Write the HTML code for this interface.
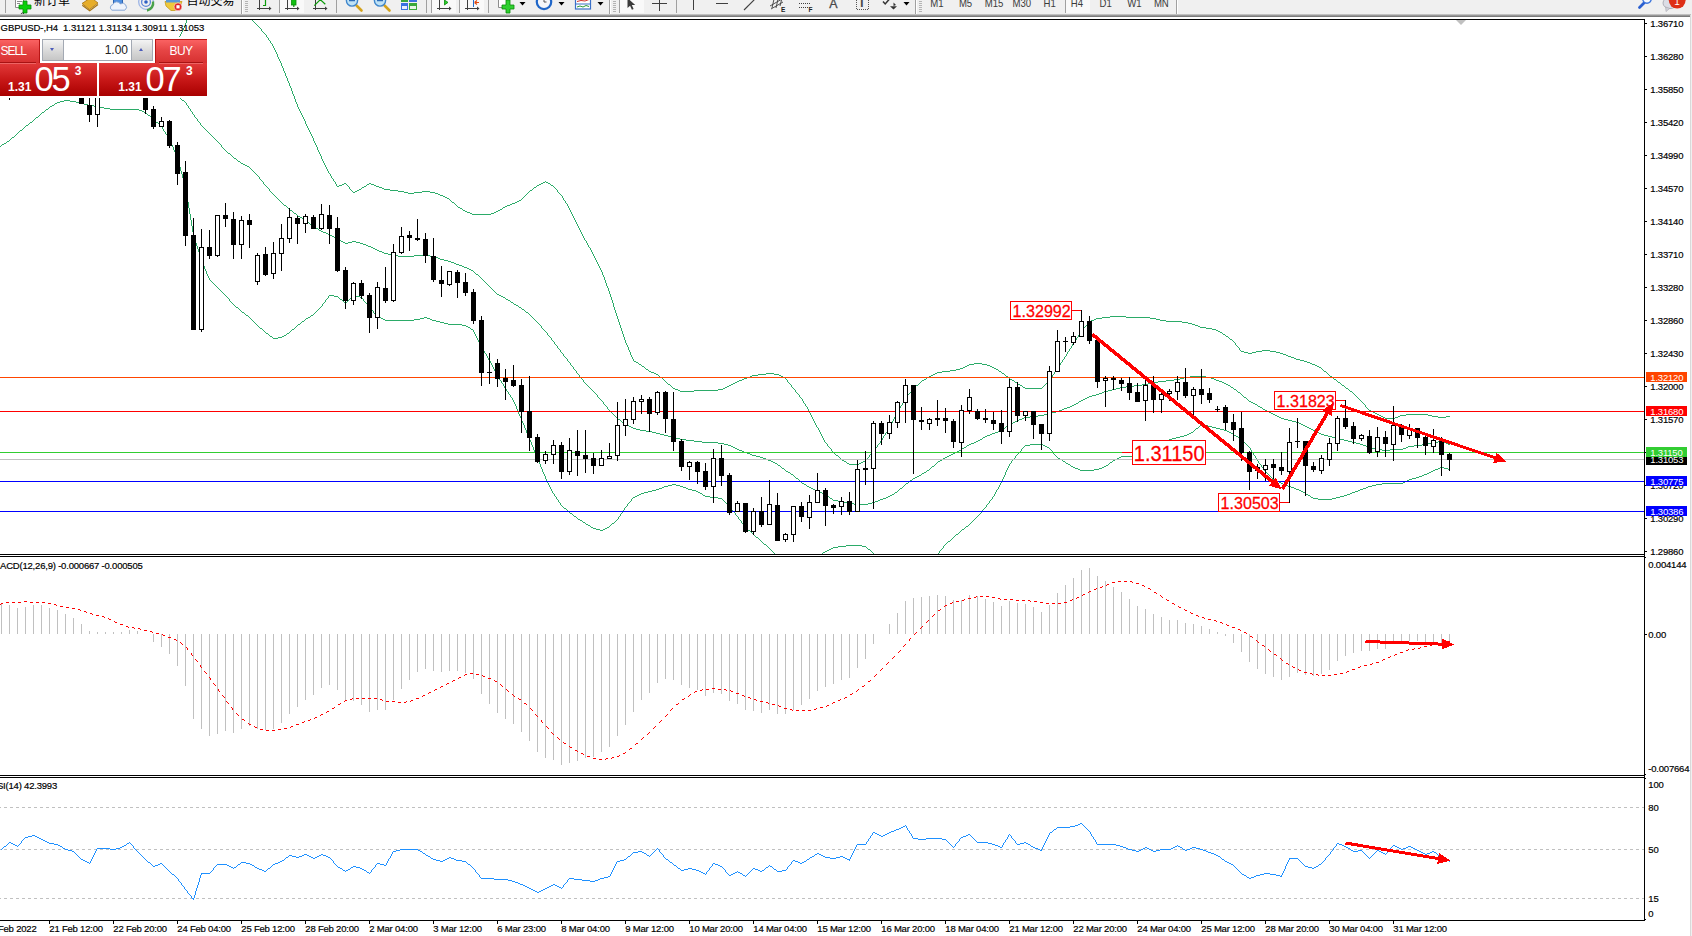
<!DOCTYPE html>
<html><head><meta charset="utf-8"><title>GBPUSD-,H4</title>
<style>
html,body{margin:0;padding:0;background:#fff;}
body{width:1692px;height:936px;overflow:hidden;position:relative;font-family:"Liberation Sans","Noto Sans CJK SC",sans-serif;}
#tb{position:absolute;left:0;top:0;width:1692px;height:15px;background:#f0f0f0;overflow:hidden;}
#tbsh{position:absolute;left:0;top:14px;width:1691px;height:3px;background:linear-gradient(#d8d8d8,#a0a0a0 40%,#6c6c6c);}
#redge{position:absolute;left:1690px;top:15px;width:1px;height:921px;background:#d9d9d9;}
#redge2{position:absolute;left:1691px;top:0;width:1px;height:936px;background:#f0f0f0;}
.cjk{position:absolute;font-size:12px;line-height:12px;color:#000;white-space:nowrap;font-family:"Liberation Sans","Noto Sans CJK SC",sans-serif;}
.tf{position:absolute;top:-4px;font-size:11px;line-height:12px;color:#3c3c3c;white-space:nowrap;}
svg{position:absolute;left:0;top:0;}
svg text{font-family:"Liberation Sans",sans-serif;}
#panel{position:absolute;left:0;top:37px;width:207px;height:61px;background:#fff;overflow:hidden;}
#panel div{position:absolute;box-sizing:border-box;white-space:nowrap;}
.btn{background:linear-gradient(#fa6262,#e64545 45%,#d63030);color:#fff;font-size:12px;}
.big{background:linear-gradient(#e23a3a,#c81818 50%,#a90000);color:#fff;}
.sm{font-weight:bold;font-size:12px;line-height:12px;color:#fff;}
.lg{font-size:34.5px;line-height:34.5px;letter-spacing:-2.3px;color:#fff;}
.sup{font-weight:bold;font-size:12px;line-height:12px;color:#fff;}
</style></head><body>

<svg width="1692" height="936" viewBox="0 0 1692 936">
<defs><clipPath id="cm"><rect x="0" y="20" width="1644" height="534"/></clipPath></defs>
<g fill="#2bab68" shape-rendering="crispEdges">
<path d="M186 20h1v3h-1zM252 20h1v1h-1zM253 21h1v1h-1zM254 22h1v1h-1zM185 23h1v3h-1zM255 23h1v1h-1zM256 24h1v1h-1zM257 25h1v1h-1zM184 26h1v2h-1zM258 26h1v1h-1zM259 27h1v1h-1zM183 28h1v2h-1zM260 28h1v1h-1zM261 29h1v2h-1zM182 30h1v2h-1zM262 31h1v1h-1zM181 32h1v2h-1zM263 32h1v1h-1zM264 33h1v1h-1zM180 34h1v2h-1zM265 34h1v1h-1zM266 35h1v2h-1zM179 36h1v2h-1zM267 37h1v1h-1zM178 38h1v2h-1zM268 38h1v2h-1zM177 40h1v2h-1zM269 40h1v1h-1zM270 41h1v2h-1zM176 42h1v2h-1zM271 43h1v1h-1zM175 44h1v2h-1zM272 44h1v2h-1zM174 46h1v2h-1zM273 46h1v2h-1zM173 48h1v2h-1zM274 48h1v2h-1zM172 50h1v2h-1zM275 50h1v2h-1zM171 52h1v2h-1zM276 52h1v2h-1zM170 54h1v2h-1zM277 54h1v3h-1zM169 56h1v2h-1zM278 57h1v2h-1zM168 58h1v1h-1zM166 59h2v1h-2zM279 59h1v2h-1zM0 60h46v1h-46zM165 60h1v1h-1zM46 61h40v1h-40zM164 61h1v1h-1zM280 61h1v2h-1zM86 62h24v1h-24zM162 62h2v1h-2zM110 63h8v1h-8zM160 63h2v1h-2zM281 63h1v3h-1zM118 64h8v1h-8zM158 64h2v1h-2zM126 65h16v1h-16zM155 65h3v1h-3zM142 66h13v1h-13zM282 66h1v2h-1zM283 68h1v3h-1zM284 71h1v2h-1zM285 73h1v3h-1zM286 76h1v2h-1zM287 78h1v3h-1zM288 81h1v2h-1zM289 83h1v3h-1zM290 86h1v2h-1zM291 88h1v3h-1zM292 91h1v3h-1zM293 94h1v2h-1zM294 96h1v3h-1zM295 99h1v3h-1zM296 102h1v2h-1zM297 104h1v3h-1zM298 107h1v2h-1zM299 109h1v2h-1zM300 111h1v2h-1zM301 113h1v2h-1zM302 115h1v2h-1zM303 117h1v2h-1zM304 119h1v2h-1zM305 121h1v3h-1zM306 124h1v2h-1zM307 126h1v2h-1zM308 128h1v2h-1zM309 130h1v2h-1zM310 132h1v2h-1zM311 134h1v2h-1zM312 136h1v2h-1zM313 138h1v3h-1zM314 141h1v2h-1zM315 143h1v2h-1zM316 145h1v2h-1zM317 147h1v3h-1zM318 150h1v2h-1zM319 152h1v2h-1zM320 154h1v2h-1zM321 156h1v3h-1zM322 159h1v2h-1zM323 161h1v2h-1zM324 163h1v2h-1zM325 165h1v2h-1zM326 167h1v2h-1zM327 169h1v2h-1zM328 171h1v2h-1zM329 173h1v1h-1zM330 174h1v2h-1zM331 176h1v2h-1zM332 178h1v1h-1zM333 179h1v2h-1zM334 181h1v1h-1zM545 181h1v1h-1zM335 182h1v2h-1zM543 182h2v1h-2zM546 182h2v1h-2zM344 183h2v1h-2zM369 183h2v1h-2zM541 183h2v1h-2zM548 183h2v1h-2zM336 184h1v2h-1zM342 184h2v1h-2zM346 184h1v1h-1zM367 184h2v1h-2zM371 184h3v1h-3zM539 184h2v1h-2zM550 184h1v1h-1zM339 185h3v1h-3zM347 185h1v1h-1zM366 185h1v1h-1zM374 185h2v1h-2zM537 185h2v1h-2zM551 185h2v1h-2zM337 186h2v1h-2zM348 186h1v1h-1zM364 186h2v1h-2zM376 186h3v1h-3zM536 186h1v1h-1zM553 186h1v1h-1zM349 187h1v2h-1zM362 187h2v1h-2zM379 187h3v1h-3zM534 187h2v1h-2zM554 187h1v1h-1zM361 188h1v1h-1zM382 188h2v1h-2zM533 188h1v1h-1zM555 188h1v1h-1zM350 189h1v1h-1zM359 189h2v1h-2zM384 189h6v1h-6zM532 189h1v1h-1zM556 189h1v1h-1zM351 190h1v1h-1zM357 190h2v1h-2zM390 190h8v1h-8zM530 190h2v1h-2zM557 190h1v2h-1zM352 191h1v1h-1zM355 191h2v1h-2zM398 191h6v1h-6zM422 191h8v1h-8zM529 191h1v1h-1zM353 192h2v1h-2zM404 192h4v1h-4zM414 192h8v1h-8zM430 192h5v1h-5zM528 192h1v1h-1zM558 192h1v1h-1zM408 193h6v1h-6zM435 193h3v1h-3zM527 193h1v1h-1zM559 193h1v1h-1zM438 194h2v1h-2zM526 194h1v1h-1zM560 194h1v1h-1zM440 195h3v1h-3zM525 195h1v1h-1zM561 195h1v1h-1zM443 196h2v1h-2zM524 196h1v1h-1zM562 196h1v2h-1zM445 197h2v1h-2zM523 197h1v1h-1zM447 198h2v1h-2zM522 198h1v1h-1zM563 198h1v2h-1zM449 199h1v1h-1zM521 199h1v1h-1zM450 200h1v1h-1zM519 200h2v1h-2zM564 200h1v1h-1zM451 201h1v1h-1zM517 201h2v1h-2zM565 201h1v2h-1zM452 202h2v1h-2zM515 202h2v1h-2zM454 203h1v1h-1zM512 203h3v1h-3zM566 203h1v1h-1zM455 204h1v1h-1zM510 204h2v1h-2zM567 204h1v2h-1zM456 205h1v1h-1zM507 205h3v1h-3zM457 206h1v1h-1zM505 206h2v1h-2zM568 206h1v2h-1zM458 207h2v1h-2zM503 207h2v1h-2zM460 208h2v1h-2zM502 208h1v1h-1zM569 208h1v2h-1zM462 209h1v1h-1zM500 209h2v1h-2zM463 210h2v1h-2zM498 210h2v1h-2zM570 210h1v2h-1zM465 211h2v1h-2zM496 211h2v1h-2zM467 212h3v1h-3zM494 212h2v1h-2zM571 212h1v2h-1zM470 213h2v1h-2zM491 213h3v1h-3zM472 214h19v1h-19zM572 214h1v2h-1zM573 216h1v2h-1zM574 218h1v2h-1zM575 220h1v2h-1zM576 222h1v2h-1zM577 224h1v2h-1zM578 226h1v2h-1zM579 228h1v2h-1zM580 230h1v2h-1zM581 232h1v2h-1zM582 234h1v2h-1zM583 236h1v2h-1zM584 238h1v2h-1zM585 240h1v1h-1zM586 241h1v2h-1zM587 243h1v2h-1zM588 245h1v2h-1zM589 247h1v1h-1zM590 248h1v2h-1zM591 250h1v2h-1zM592 252h1v2h-1zM593 254h1v2h-1zM594 256h1v2h-1zM595 258h1v2h-1zM596 260h1v2h-1zM597 262h1v2h-1zM598 264h1v2h-1zM599 266h1v2h-1zM600 268h1v2h-1zM601 270h1v2h-1zM602 272h1v3h-1zM603 275h1v2h-1zM604 277h1v3h-1zM605 280h1v3h-1zM606 283h1v3h-1zM607 286h1v2h-1zM608 288h1v3h-1zM609 291h1v3h-1zM610 294h1v3h-1zM611 297h1v3h-1zM612 300h1v3h-1zM613 303h1v4h-1zM614 307h1v3h-1zM615 310h1v3h-1zM616 313h1v3h-1zM617 316h1v3h-1zM1110 316h16v1h-16zM1102 317h8v1h-8zM1126 317h24v1h-24zM1096 318h6v1h-6zM1150 318h6v1h-6zM618 319h1v3h-1zM1094 319h2v1h-2zM1156 319h4v1h-4zM1091 320h3v1h-3zM1160 320h6v1h-6zM1089 321h2v1h-2zM1166 321h16v1h-16zM619 322h1v3h-1zM1088 322h1v1h-1zM1182 322h6v1h-6zM1087 323h1v2h-1zM1188 323h4v1h-4zM1192 324h3v1h-3zM620 325h1v3h-1zM1086 325h1v1h-1zM1195 325h3v1h-3zM1085 326h1v1h-1zM1198 326h2v1h-2zM1084 327h1v1h-1zM1200 327h6v1h-6zM621 328h1v3h-1zM1083 328h1v2h-1zM1206 328h6v1h-6zM1212 329h4v1h-4zM1082 330h1v1h-1zM1216 330h2v1h-2zM622 331h1v3h-1zM1081 331h1v1h-1zM1218 331h2v1h-2zM1080 332h1v2h-1zM1220 332h2v1h-2zM1222 333h1v1h-1zM623 334h1v3h-1zM1079 334h1v1h-1zM1223 334h2v1h-2zM1078 335h1v2h-1zM1225 335h1v1h-1zM1226 336h2v1h-2zM624 337h1v3h-1zM1077 337h1v1h-1zM1228 337h1v1h-1zM1076 338h1v2h-1zM1229 338h1v1h-1zM1230 339h2v1h-2zM625 340h1v3h-1zM1075 340h1v1h-1zM1232 340h1v1h-1zM1074 341h1v2h-1zM1233 341h1v1h-1zM1234 342h1v1h-1zM626 343h1v2h-1zM1073 343h1v1h-1zM1235 343h1v2h-1zM1072 344h1v2h-1zM627 345h1v2h-1zM1236 345h1v1h-1zM1071 346h1v2h-1zM1237 346h1v1h-1zM628 347h1v3h-1zM1238 347h1v1h-1zM1070 348h1v1h-1zM1239 348h1v2h-1zM1069 349h1v2h-1zM629 350h1v2h-1zM1240 350h1v1h-1zM1262 350h8v1h-8zM1068 351h1v1h-1zM1241 351h3v1h-3zM1256 351h6v1h-6zM1270 351h6v1h-6zM630 352h1v3h-1zM1067 352h1v2h-1zM1244 352h4v1h-4zM1252 352h4v1h-4zM1276 352h4v1h-4zM1248 353h4v1h-4zM1280 353h3v1h-3zM1066 354h1v2h-1zM1283 354h3v1h-3zM631 355h1v2h-1zM1286 355h2v1h-2zM1065 356h1v1h-1zM1288 356h3v1h-3zM632 357h1v2h-1zM1064 357h1v2h-1zM1291 357h3v1h-3zM1294 358h2v1h-2zM633 359h1v2h-1zM1063 359h1v1h-1zM1296 359h4v1h-4zM1062 360h1v2h-1zM1300 360h4v1h-4zM634 361h2v1h-2zM1304 361h3v1h-3zM636 362h2v1h-2zM1061 362h1v1h-1zM1307 362h3v1h-3zM638 363h1v1h-1zM974 363h8v1h-8zM1060 363h1v2h-1zM1310 363h2v1h-2zM639 364h2v1h-2zM969 364h5v1h-5zM982 364h5v1h-5zM1312 364h3v1h-3zM641 365h1v1h-1zM967 365h2v1h-2zM987 365h3v1h-3zM1059 365h1v1h-1zM1315 365h2v1h-2zM642 366h2v1h-2zM965 366h2v1h-2zM990 366h2v1h-2zM1058 366h1v2h-1zM1317 366h2v1h-2zM644 367h1v1h-1zM963 367h2v1h-2zM992 367h2v1h-2zM1319 367h2v1h-2zM645 368h1v1h-1zM960 368h3v1h-3zM994 368h2v1h-2zM1057 368h1v1h-1zM1321 368h1v1h-1zM646 369h2v1h-2zM956 369h4v1h-4zM996 369h2v1h-2zM1056 369h1v2h-1zM1322 369h1v1h-1zM648 370h1v1h-1zM950 370h6v1h-6zM998 370h1v1h-1zM1323 370h1v1h-1zM649 371h2v1h-2zM942 371h8v1h-8zM999 371h2v1h-2zM1055 371h1v1h-1zM1324 371h2v1h-2zM651 372h3v1h-3zM937 372h5v1h-5zM1001 372h1v1h-1zM1054 372h1v2h-1zM1326 372h1v1h-1zM654 373h2v1h-2zM766 373h8v1h-8zM935 373h2v1h-2zM1002 373h2v1h-2zM1327 373h1v1h-1zM656 374h2v1h-2zM758 374h8v1h-8zM774 374h5v1h-5zM933 374h2v1h-2zM1004 374h1v1h-1zM1053 374h1v1h-1zM1328 374h1v1h-1zM658 375h1v1h-1zM752 375h6v1h-6zM779 375h2v1h-2zM931 375h2v1h-2zM1005 375h1v1h-1zM1052 375h1v2h-1zM1329 375h1v1h-1zM659 376h1v1h-1zM750 376h2v1h-2zM781 376h2v1h-2zM929 376h2v1h-2zM1006 376h2v1h-2zM1330 376h2v1h-2zM660 377h2v1h-2zM747 377h3v1h-3zM783 377h2v1h-2zM927 377h2v1h-2zM1008 377h1v1h-1zM1051 377h1v1h-1zM1332 377h1v1h-1zM662 378h1v1h-1zM744 378h3v1h-3zM785 378h1v1h-1zM926 378h1v1h-1zM1009 378h1v1h-1zM1050 378h1v2h-1zM1333 378h1v1h-1zM663 379h1v1h-1zM742 379h2v1h-2zM786 379h1v1h-1zM924 379h2v1h-2zM1010 379h2v1h-2zM1334 379h2v1h-2zM664 380h1v1h-1zM739 380h3v1h-3zM787 380h1v2h-1zM922 380h2v1h-2zM1012 380h2v1h-2zM1049 380h1v1h-1zM1336 380h1v1h-1zM665 381h1v1h-1zM737 381h2v1h-2zM921 381h1v1h-1zM1014 381h1v1h-1zM1048 381h1v1h-1zM1337 381h1v1h-1zM666 382h1v1h-1zM735 382h2v1h-2zM788 382h1v1h-1zM920 382h1v1h-1zM1015 382h2v1h-2zM1047 382h1v1h-1zM1338 382h2v1h-2zM667 383h1v1h-1zM733 383h2v1h-2zM789 383h1v1h-1zM919 383h1v1h-1zM1017 383h1v1h-1zM1046 383h1v1h-1zM1340 383h1v1h-1zM668 384h2v1h-2zM731 384h2v1h-2zM790 384h1v1h-1zM918 384h1v1h-1zM1018 384h2v1h-2zM1045 384h1v1h-1zM1341 384h1v1h-1zM670 385h1v1h-1zM729 385h2v1h-2zM791 385h1v2h-1zM916 385h2v1h-2zM1020 385h2v1h-2zM1044 385h1v1h-1zM1342 385h2v1h-2zM671 386h1v1h-1zM727 386h2v1h-2zM915 386h1v1h-1zM1022 386h1v1h-1zM1043 386h1v1h-1zM1344 386h1v1h-1zM672 387h1v1h-1zM725 387h2v1h-2zM792 387h1v1h-1zM914 387h1v1h-1zM1023 387h2v1h-2zM1042 387h1v1h-1zM1345 387h1v1h-1zM673 388h2v1h-2zM723 388h2v1h-2zM793 388h1v1h-1zM913 388h1v1h-1zM1025 388h17v1h-17zM1346 388h2v1h-2zM675 389h3v1h-3zM718 389h5v1h-5zM794 389h1v1h-1zM912 389h1v1h-1zM1348 389h1v1h-1zM678 390h2v1h-2zM694 390h24v1h-24zM795 390h1v2h-1zM911 390h1v2h-1zM1349 390h1v1h-1zM680 391h14v1h-14zM1350 391h2v1h-2zM796 392h1v1h-1zM910 392h1v1h-1zM1352 392h1v1h-1zM797 393h1v1h-1zM909 393h1v1h-1zM1353 393h1v1h-1zM798 394h1v1h-1zM908 394h1v1h-1zM1354 394h1v1h-1zM799 395h1v2h-1zM907 395h1v2h-1zM1355 395h1v1h-1zM1356 396h1v1h-1zM800 397h1v1h-1zM906 397h1v1h-1zM1357 397h1v1h-1zM801 398h1v1h-1zM905 398h1v1h-1zM1358 398h1v1h-1zM802 399h1v2h-1zM904 399h1v2h-1zM1359 399h1v1h-1zM1360 400h1v1h-1zM803 401h1v2h-1zM903 401h1v2h-1zM1361 401h1v1h-1zM1362 402h1v1h-1zM804 403h1v1h-1zM902 403h1v2h-1zM1363 403h1v1h-1zM805 404h1v2h-1zM1364 404h1v1h-1zM901 405h1v1h-1zM1365 405h1v2h-1zM806 406h1v1h-1zM900 406h1v2h-1zM807 407h1v2h-1zM1366 407h1v1h-1zM899 408h1v2h-1zM1367 408h1v1h-1zM808 409h1v2h-1zM1368 409h1v1h-1zM898 410h1v2h-1zM1369 410h2v1h-2zM809 411h1v2h-1zM1371 411h2v1h-2zM897 412h1v1h-1zM1373 412h2v1h-2zM810 413h1v2h-1zM896 413h1v2h-1zM1375 413h2v1h-2zM1377 414h2v1h-2zM1406 414h22v1h-22zM811 415h1v2h-1zM895 415h1v2h-1zM1379 415h2v1h-2zM1400 415h6v1h-6zM1428 415h4v1h-4zM1381 416h2v1h-2zM1398 416h2v1h-2zM1432 416h6v1h-6zM1446 416h4v1h-4zM812 417h1v2h-1zM894 417h1v2h-1zM1383 417h2v1h-2zM1395 417h3v1h-3zM1438 417h8v1h-8zM1385 418h10v1h-10zM813 419h1v2h-1zM893 419h1v2h-1zM814 421h1v2h-1zM892 421h1v2h-1zM815 423h1v2h-1zM891 423h1v2h-1zM816 425h1v2h-1zM890 425h1v2h-1zM817 427h1v1h-1zM889 427h1v1h-1zM818 428h1v2h-1zM888 428h1v2h-1zM819 430h1v2h-1zM887 430h1v2h-1zM820 432h1v2h-1zM886 432h1v1h-1zM885 433h1v2h-1zM821 434h1v2h-1zM884 435h1v1h-1zM822 436h1v2h-1zM883 436h1v2h-1zM823 438h1v2h-1zM882 438h1v2h-1zM824 440h1v2h-1zM881 440h1v1h-1zM880 441h1v2h-1zM825 442h1v1h-1zM826 443h1v1h-1zM879 443h1v1h-1zM827 444h1v2h-1zM878 444h1v1h-1zM877 445h1v2h-1zM828 446h1v1h-1zM829 447h1v1h-1zM876 447h1v1h-1zM830 448h1v1h-1zM875 448h1v1h-1zM831 449h1v2h-1zM874 449h1v2h-1zM832 451h1v1h-1zM873 451h1v1h-1zM833 452h1v1h-1zM872 452h1v1h-1zM834 453h1v1h-1zM871 453h1v1h-1zM835 454h1v1h-1zM870 454h1v1h-1zM836 455h2v1h-2zM869 455h1v2h-1zM838 456h1v1h-1zM839 457h1v1h-1zM868 457h1v1h-1zM840 458h1v1h-1zM867 458h1v1h-1zM841 459h1v1h-1zM866 459h1v1h-1zM842 460h2v1h-2zM865 460h1v1h-1zM844 461h2v1h-2zM863 461h2v1h-2zM846 462h1v1h-1zM861 462h2v1h-2zM847 463h2v1h-2zM859 463h2v1h-2zM849 464h10v1h-10z"/>
<path d="M0 50h4v1h-4zM4 51h4v1h-4zM8 52h6v1h-6zM14 53h8v1h-8zM22 54h6v1h-6zM28 55h4v1h-4zM32 56h4v1h-4zM36 57h4v1h-4zM40 58h6v1h-6zM46 59h6v1h-6zM52 60h4v1h-4zM56 61h6v1h-6zM62 62h6v1h-6zM68 63h4v1h-4zM72 64h4v1h-4zM76 65h4v1h-4zM80 66h4v1h-4zM84 67h4v1h-4zM88 68h6v1h-6zM94 69h6v1h-6zM100 70h4v1h-4zM104 71h4v1h-4zM108 72h4v1h-4zM112 73h6v1h-6zM118 74h6v1h-6zM124 75h4v1h-4zM128 76h4v1h-4zM132 77h4v1h-4zM136 78h4v1h-4zM140 79h4v1h-4zM144 80h4v1h-4zM148 81h4v1h-4zM152 82h3v1h-3zM155 83h3v1h-3zM158 84h2v1h-2zM160 85h2v1h-2zM162 86h2v1h-2zM164 87h2v1h-2zM166 88h1v1h-1zM167 89h2v1h-2zM169 90h1v1h-1zM170 91h2v1h-2zM172 92h1v1h-1zM173 93h1v1h-1zM174 94h2v1h-2zM176 95h1v1h-1zM177 96h1v1h-1zM178 97h2v1h-2zM180 98h1v1h-1zM181 99h1v1h-1zM182 100h2v1h-2zM184 101h1v1h-1zM185 102h1v1h-1zM186 103h1v2h-1zM187 105h1v1h-1zM188 106h1v2h-1zM189 108h1v1h-1zM190 109h1v2h-1zM191 111h1v1h-1zM192 112h1v2h-1zM193 114h1v1h-1zM194 115h1v2h-1zM195 117h1v1h-1zM196 118h1v1h-1zM197 119h1v2h-1zM198 121h1v1h-1zM199 122h1v1h-1zM200 123h1v2h-1zM201 125h1v1h-1zM202 126h1v1h-1zM203 127h1v1h-1zM204 128h1v1h-1zM205 129h1v1h-1zM206 130h1v1h-1zM207 131h1v1h-1zM208 132h1v1h-1zM209 133h1v1h-1zM210 134h1v1h-1zM211 135h1v1h-1zM212 136h1v1h-1zM213 137h1v1h-1zM214 138h1v1h-1zM215 139h1v1h-1zM216 140h1v1h-1zM217 141h1v1h-1zM218 142h1v1h-1zM219 143h1v1h-1zM220 144h1v1h-1zM221 145h1v2h-1zM222 147h1v1h-1zM223 148h1v1h-1zM224 149h1v1h-1zM225 150h1v1h-1zM226 151h1v1h-1zM227 152h1v1h-1zM228 153h2v1h-2zM230 154h1v1h-1zM231 155h1v1h-1zM232 156h1v1h-1zM233 157h1v1h-1zM234 158h2v1h-2zM236 159h1v1h-1zM237 160h1v1h-1zM238 161h2v1h-2zM240 162h1v1h-1zM241 163h2v1h-2zM243 164h2v1h-2zM245 165h2v1h-2zM247 166h2v1h-2zM249 167h1v1h-1zM250 168h1v1h-1zM251 169h1v1h-1zM252 170h1v1h-1zM253 171h1v1h-1zM254 172h1v1h-1zM255 173h1v1h-1zM256 174h1v1h-1zM257 175h1v1h-1zM258 176h1v1h-1zM259 177h1v2h-1zM260 179h1v1h-1zM261 180h1v1h-1zM262 181h1v1h-1zM263 182h1v2h-1zM264 184h1v1h-1zM265 185h1v1h-1zM266 186h1v1h-1zM267 187h1v1h-1zM268 188h1v1h-1zM269 189h1v2h-1zM270 191h1v1h-1zM271 192h1v1h-1zM272 193h1v1h-1zM273 194h1v1h-1zM274 195h1v1h-1zM275 196h1v1h-1zM276 197h1v1h-1zM277 198h1v1h-1zM278 199h1v1h-1zM279 200h1v1h-1zM280 201h1v1h-1zM281 202h1v1h-1zM282 203h1v1h-1zM283 204h1v1h-1zM284 205h2v1h-2zM286 206h1v1h-1zM287 207h1v1h-1zM288 208h1v1h-1zM289 209h1v1h-1zM290 210h2v1h-2zM292 211h1v1h-1zM293 212h1v1h-1zM294 213h2v1h-2zM296 214h1v1h-1zM297 215h1v1h-1zM298 216h2v1h-2zM300 217h2v1h-2zM302 218h1v1h-1zM303 219h2v1h-2zM305 220h1v1h-1zM306 221h2v1h-2zM308 222h1v1h-1zM309 223h1v1h-1zM310 224h2v1h-2zM312 225h1v1h-1zM313 226h1v1h-1zM314 227h2v1h-2zM316 228h2v1h-2zM318 229h1v1h-1zM319 230h2v1h-2zM321 231h2v1h-2zM323 232h3v1h-3zM326 233h2v1h-2zM328 234h2v1h-2zM330 235h2v1h-2zM332 236h2v1h-2zM334 237h1v1h-1zM335 238h2v1h-2zM337 239h2v1h-2zM339 240h2v1h-2zM341 241h2v1h-2zM352 241h4v1h-4zM343 242h2v1h-2zM348 242h4v1h-4zM356 242h4v1h-4zM345 243h3v1h-3zM360 243h3v1h-3zM363 244h3v1h-3zM366 245h2v1h-2zM368 246h3v1h-3zM371 247h2v1h-2zM373 248h2v1h-2zM375 249h2v1h-2zM377 250h2v1h-2zM379 251h3v1h-3zM382 252h2v1h-2zM384 253h4v1h-4zM388 254h4v1h-4zM392 255h6v1h-6zM414 255h16v1h-16zM398 256h16v1h-16zM430 256h5v1h-5zM435 257h3v1h-3zM438 258h2v1h-2zM440 259h4v1h-4zM444 260h4v1h-4zM448 261h3v1h-3zM451 262h3v1h-3zM454 263h2v1h-2zM456 264h3v1h-3zM459 265h3v1h-3zM462 266h2v1h-2zM464 267h3v1h-3zM467 268h2v1h-2zM469 269h2v1h-2zM471 270h2v1h-2zM473 271h1v1h-1zM474 272h1v1h-1zM475 273h1v1h-1zM476 274h2v1h-2zM478 275h1v1h-1zM479 276h1v1h-1zM480 277h1v1h-1zM481 278h1v1h-1zM482 279h1v1h-1zM483 280h1v1h-1zM484 281h1v1h-1zM485 282h1v1h-1zM486 283h1v1h-1zM487 284h1v1h-1zM488 285h1v1h-1zM489 286h1v1h-1zM490 287h1v1h-1zM491 288h1v1h-1zM492 289h1v1h-1zM493 290h1v1h-1zM494 291h1v1h-1zM495 292h1v1h-1zM496 293h1v1h-1zM497 294h2v1h-2zM499 295h2v1h-2zM501 296h2v1h-2zM503 297h2v1h-2zM505 298h1v1h-1zM506 299h2v1h-2zM508 300h2v1h-2zM510 301h1v1h-1zM511 302h2v1h-2zM513 303h1v1h-1zM514 304h2v1h-2zM516 305h2v1h-2zM518 306h1v1h-1zM519 307h2v1h-2zM521 308h1v1h-1zM522 309h2v1h-2zM524 310h1v1h-1zM525 311h1v1h-1zM526 312h2v1h-2zM528 313h1v1h-1zM529 314h1v1h-1zM530 315h1v1h-1zM531 316h1v1h-1zM532 317h1v1h-1zM533 318h1v1h-1zM534 319h1v1h-1zM535 320h1v1h-1zM536 321h1v1h-1zM537 322h1v1h-1zM538 323h1v1h-1zM539 324h1v1h-1zM540 325h1v1h-1zM541 326h1v2h-1zM542 328h1v1h-1zM543 329h1v1h-1zM544 330h1v1h-1zM545 331h1v1h-1zM546 332h1v1h-1zM547 333h1v2h-1zM548 335h1v1h-1zM549 336h1v1h-1zM550 337h1v1h-1zM551 338h1v2h-1zM552 340h1v1h-1zM553 341h1v1h-1zM554 342h1v2h-1zM555 344h1v1h-1zM556 345h1v1h-1zM557 346h1v2h-1zM558 348h1v1h-1zM559 349h1v1h-1zM560 350h1v2h-1zM561 352h1v1h-1zM562 353h1v1h-1zM563 354h1v2h-1zM564 356h1v1h-1zM565 357h1v1h-1zM566 358h1v1h-1zM567 359h1v2h-1zM568 361h1v1h-1zM569 362h1v1h-1zM570 363h1v2h-1zM571 365h1v1h-1zM572 366h1v1h-1zM573 367h1v2h-1zM574 369h1v1h-1zM575 370h1v1h-1zM576 371h1v2h-1zM577 373h1v1h-1zM578 374h1v1h-1zM579 375h1v2h-1zM1190 376h16v1h-16zM580 377h1v1h-1zM1184 377h6v1h-6zM1206 377h5v1h-5zM581 378h1v1h-1zM1180 378h4v1h-4zM1211 378h3v1h-3zM582 379h1v1h-1zM1174 379h6v1h-6zM1214 379h2v1h-2zM583 380h1v2h-1zM1166 380h8v1h-8zM1216 380h3v1h-3zM1158 381h8v1h-8zM1219 381h3v1h-3zM584 382h1v1h-1zM1152 382h6v1h-6zM1222 382h2v1h-2zM585 383h1v1h-1zM1148 383h4v1h-4zM1224 383h2v1h-2zM586 384h1v1h-1zM1142 384h6v1h-6zM1226 384h2v1h-2zM587 385h1v1h-1zM1134 385h8v1h-8zM1228 385h2v1h-2zM588 386h1v1h-1zM1126 386h8v1h-8zM1230 386h1v1h-1zM589 387h1v1h-1zM1120 387h6v1h-6zM1231 387h2v1h-2zM590 388h1v1h-1zM1116 388h4v1h-4zM1233 388h1v1h-1zM591 389h1v1h-1zM1112 389h4v1h-4zM1234 389h2v1h-2zM592 390h1v1h-1zM1108 390h4v1h-4zM1236 390h1v1h-1zM593 391h1v1h-1zM1104 391h4v1h-4zM1237 391h1v1h-1zM594 392h1v1h-1zM1102 392h2v1h-2zM1238 392h2v1h-2zM595 393h1v1h-1zM1099 393h3v1h-3zM1240 393h1v1h-1zM596 394h1v1h-1zM1096 394h3v1h-3zM1241 394h1v1h-1zM597 395h1v2h-1zM1092 395h4v1h-4zM1242 395h1v1h-1zM1089 396h3v1h-3zM1243 396h1v1h-1zM598 397h1v1h-1zM1087 397h2v1h-2zM1244 397h2v1h-2zM599 398h1v1h-1zM1085 398h2v1h-2zM1246 398h1v1h-1zM600 399h1v1h-1zM1083 399h2v1h-2zM1247 399h1v1h-1zM601 400h1v1h-1zM1081 400h2v1h-2zM1248 400h1v1h-1zM602 401h1v1h-1zM1079 401h2v1h-2zM1249 401h2v1h-2zM603 402h1v2h-1zM1078 402h1v1h-1zM1251 402h2v1h-2zM1076 403h2v1h-2zM1253 403h2v1h-2zM604 404h1v1h-1zM1074 404h2v1h-2zM1255 404h2v1h-2zM605 405h1v1h-1zM1072 405h2v1h-2zM1257 405h1v1h-1zM606 406h1v1h-1zM1070 406h2v1h-2zM1258 406h2v1h-2zM607 407h1v2h-1zM1067 407h3v1h-3zM1260 407h2v1h-2zM1064 408h3v1h-3zM1262 408h1v1h-1zM608 409h1v1h-1zM1062 409h2v1h-2zM1263 409h2v1h-2zM609 410h1v1h-1zM1059 410h3v1h-3zM1265 410h2v1h-2zM610 411h1v1h-1zM1056 411h3v1h-3zM1267 411h2v1h-2zM611 412h1v1h-1zM1052 412h4v1h-4zM1269 412h2v1h-2zM612 413h1v1h-1zM1048 413h4v1h-4zM1271 413h2v1h-2zM613 414h1v1h-1zM1044 414h4v1h-4zM1273 414h2v1h-2zM614 415h1v1h-1zM1038 415h6v1h-6zM1275 415h2v1h-2zM615 416h1v1h-1zM1030 416h8v1h-8zM1277 416h2v1h-2zM616 417h1v1h-1zM1024 417h6v1h-6zM1279 417h2v1h-2zM617 418h1v1h-1zM1022 418h2v1h-2zM1281 418h3v1h-3zM618 419h2v1h-2zM1019 419h3v1h-3zM1284 419h4v1h-4zM620 420h1v1h-1zM1017 420h2v1h-2zM1288 420h4v1h-4zM621 421h1v1h-1zM1015 421h2v1h-2zM1292 421h4v1h-4zM622 422h2v1h-2zM1013 422h2v1h-2zM1296 422h3v1h-3zM624 423h1v1h-1zM1011 423h2v1h-2zM1299 423h2v1h-2zM625 424h2v1h-2zM1009 424h2v1h-2zM1301 424h2v1h-2zM627 425h2v1h-2zM1008 425h1v1h-1zM1303 425h2v1h-2zM629 426h2v1h-2zM1006 426h2v1h-2zM1305 426h2v1h-2zM631 427h2v1h-2zM1005 427h1v1h-1zM1307 427h2v1h-2zM633 428h3v1h-3zM1004 428h1v1h-1zM1309 428h2v1h-2zM636 429h4v1h-4zM1002 429h2v1h-2zM1311 429h2v1h-2zM640 430h6v1h-6zM1000 430h2v1h-2zM1313 430h2v1h-2zM646 431h6v1h-6zM998 431h2v1h-2zM1315 431h2v1h-2zM652 432h4v1h-4zM995 432h3v1h-3zM1317 432h2v1h-2zM656 433h4v1h-4zM992 433h3v1h-3zM1319 433h2v1h-2zM660 434h4v1h-4zM990 434h2v1h-2zM1321 434h3v1h-3zM664 435h4v1h-4zM987 435h3v1h-3zM1324 435h4v1h-4zM668 436h4v1h-4zM985 436h2v1h-2zM1328 436h4v1h-4zM672 437h4v1h-4zM983 437h2v1h-2zM1332 437h4v1h-4zM676 438h4v1h-4zM982 438h1v1h-1zM1336 438h4v1h-4zM680 439h6v1h-6zM980 439h2v1h-2zM1340 439h4v1h-4zM686 440h8v1h-8zM978 440h2v1h-2zM1344 440h4v1h-4zM694 441h8v1h-8zM976 441h2v1h-2zM1348 441h4v1h-4zM1438 441h5v1h-5zM702 442h16v1h-16zM974 442h2v1h-2zM1352 442h4v1h-4zM1432 442h6v1h-6zM1443 442h3v1h-3zM718 443h6v1h-6zM971 443h3v1h-3zM1356 443h4v1h-4zM1428 443h4v1h-4zM1446 443h2v1h-2zM724 444h4v1h-4zM969 444h2v1h-2zM1360 444h3v1h-3zM1422 444h6v1h-6zM1448 444h2v1h-2zM728 445h3v1h-3zM967 445h2v1h-2zM1363 445h3v1h-3zM1414 445h8v1h-8zM731 446h2v1h-2zM966 446h1v1h-1zM1366 446h2v1h-2zM1408 446h6v1h-6zM733 447h2v1h-2zM964 447h2v1h-2zM1368 447h4v1h-4zM1406 447h2v1h-2zM735 448h2v1h-2zM962 448h2v1h-2zM1372 448h4v1h-4zM1403 448h3v1h-3zM737 449h2v1h-2zM961 449h1v1h-1zM1376 449h6v1h-6zM1390 449h13v1h-13zM739 450h3v1h-3zM959 450h2v1h-2zM1382 450h8v1h-8zM742 451h2v1h-2zM957 451h2v1h-2zM744 452h3v1h-3zM955 452h2v1h-2zM747 453h3v1h-3zM953 453h2v1h-2zM750 454h2v1h-2zM951 454h2v1h-2zM752 455h4v1h-4zM949 455h2v1h-2zM756 456h4v1h-4zM947 456h2v1h-2zM760 457h3v1h-3zM945 457h2v1h-2zM763 458h3v1h-3zM943 458h2v1h-2zM766 459h2v1h-2zM942 459h1v1h-1zM768 460h3v1h-3zM940 460h2v1h-2zM771 461h2v1h-2zM938 461h2v1h-2zM773 462h2v1h-2zM937 462h1v1h-1zM775 463h2v1h-2zM936 463h1v1h-1zM777 464h1v1h-1zM935 464h1v1h-1zM778 465h2v1h-2zM934 465h1v1h-1zM780 466h1v1h-1zM932 466h2v1h-2zM781 467h1v1h-1zM931 467h1v1h-1zM782 468h2v1h-2zM930 468h1v1h-1zM784 469h1v1h-1zM929 469h1v1h-1zM785 470h1v1h-1zM927 470h2v1h-2zM786 471h2v1h-2zM926 471h1v1h-1zM788 472h2v1h-2zM924 472h2v1h-2zM790 473h1v1h-1zM922 473h2v1h-2zM791 474h2v1h-2zM921 474h1v1h-1zM793 475h1v1h-1zM919 475h2v1h-2zM794 476h1v1h-1zM917 476h2v1h-2zM795 477h1v1h-1zM915 477h2v1h-2zM796 478h2v1h-2zM913 478h2v1h-2zM798 479h1v1h-1zM912 479h1v1h-1zM799 480h1v1h-1zM910 480h2v1h-2zM800 481h1v1h-1zM909 481h1v1h-1zM801 482h1v1h-1zM908 482h1v1h-1zM802 483h2v1h-2zM906 483h2v1h-2zM804 484h2v1h-2zM905 484h1v1h-1zM806 485h1v1h-1zM904 485h1v1h-1zM807 486h2v1h-2zM903 486h1v1h-1zM809 487h2v1h-2zM902 487h1v1h-1zM811 488h2v1h-2zM900 488h2v1h-2zM813 489h2v1h-2zM899 489h1v1h-1zM815 490h2v1h-2zM898 490h1v1h-1zM817 491h2v1h-2zM897 491h1v1h-1zM819 492h3v1h-3zM895 492h2v1h-2zM822 493h2v1h-2zM894 493h1v1h-1zM824 494h2v1h-2zM892 494h2v1h-2zM826 495h2v1h-2zM890 495h2v1h-2zM828 496h1v1h-1zM888 496h2v1h-2zM829 497h1v1h-1zM886 497h2v1h-2zM830 498h2v1h-2zM883 498h3v1h-3zM832 499h1v1h-1zM880 499h3v1h-3zM833 500h5v1h-5zM878 500h2v1h-2zM838 501h6v1h-6zM875 501h3v1h-3zM844 502h4v1h-4zM872 502h3v1h-3zM848 503h6v1h-6zM868 503h4v1h-4zM854 504h14v1h-14z"/>
<path d="M64 100h6v1h-6zM60 101h4v1h-4zM70 101h6v1h-6zM57 102h3v1h-3zM76 102h4v1h-4zM55 103h2v1h-2zM80 103h4v1h-4zM54 104h1v1h-1zM84 104h4v1h-4zM52 105h2v1h-2zM88 105h6v1h-6zM50 106h2v1h-2zM94 106h6v1h-6zM49 107h1v1h-1zM100 107h4v1h-4zM48 108h1v1h-1zM104 108h6v1h-6zM46 109h2v1h-2zM110 109h29v1h-29zM45 110h1v1h-1zM139 110h3v1h-3zM44 111h1v1h-1zM142 111h2v1h-2zM42 112h2v1h-2zM144 112h2v1h-2zM41 113h1v1h-1zM146 113h1v1h-1zM40 114h1v1h-1zM147 114h1v1h-1zM39 115h1v1h-1zM148 115h2v1h-2zM38 116h1v1h-1zM150 116h1v1h-1zM36 117h2v1h-2zM151 117h1v1h-1zM35 118h1v1h-1zM152 118h1v1h-1zM34 119h1v1h-1zM153 119h1v1h-1zM33 120h1v1h-1zM154 120h1v1h-1zM32 121h1v1h-1zM155 121h1v1h-1zM30 122h2v1h-2zM156 122h2v1h-2zM29 123h1v1h-1zM158 123h1v1h-1zM28 124h1v1h-1zM159 124h1v1h-1zM26 125h2v1h-2zM160 125h1v1h-1zM25 126h1v1h-1zM161 126h1v1h-1zM24 127h1v1h-1zM162 127h1v2h-1zM23 128h1v1h-1zM22 129h1v1h-1zM163 129h1v2h-1zM20 130h2v1h-2zM19 131h1v1h-1zM164 131h1v1h-1zM18 132h1v1h-1zM165 132h1v2h-1zM17 133h1v1h-1zM16 134h1v1h-1zM166 134h1v1h-1zM15 135h1v1h-1zM167 135h1v2h-1zM14 136h1v1h-1zM12 137h2v1h-2zM168 137h1v2h-1zM11 138h1v1h-1zM10 139h1v1h-1zM169 139h1v2h-1zM9 140h1v1h-1zM7 141h2v1h-2zM170 141h1v2h-1zM6 142h1v1h-1zM4 143h2v1h-2zM171 143h1v2h-1zM2 144h2v1h-2zM1 145h1v1h-1zM172 145h1v2h-1zM0 146h1v1h-1zM173 147h1v3h-1zM174 150h1v2h-1zM175 152h1v2h-1zM176 154h1v2h-1zM177 156h1v3h-1zM178 159h1v4h-1zM179 163h1v4h-1zM180 167h1v4h-1zM181 171h1v3h-1zM182 174h1v4h-1zM183 178h1v4h-1zM184 182h1v4h-1zM185 186h1v4h-1zM186 190h1v6h-1zM187 196h1v6h-1zM188 202h1v6h-1zM189 208h1v6h-1zM190 214h1v6h-1zM191 220h1v6h-1zM192 226h1v6h-1zM193 232h1v4h-1zM194 236h1v3h-1zM195 239h1v4h-1zM196 243h1v3h-1zM197 246h1v3h-1zM198 249h1v3h-1zM199 252h1v4h-1zM200 256h1v3h-1zM201 259h1v3h-1zM202 262h1v2h-1zM203 264h1v2h-1zM204 266h1v3h-1zM205 269h1v2h-1zM206 271h1v3h-1zM207 274h1v2h-1zM208 276h1v2h-1zM209 278h1v2h-1zM210 280h1v1h-1zM211 281h1v1h-1zM212 282h1v1h-1zM213 283h1v1h-1zM214 284h1v1h-1zM215 285h1v1h-1zM216 286h1v1h-1zM217 287h1v1h-1zM218 288h1v1h-1zM219 289h1v1h-1zM220 290h1v1h-1zM221 291h1v1h-1zM222 292h1v1h-1zM223 293h1v1h-1zM224 294h1v1h-1zM225 295h1v1h-1zM329 295h5v1h-5zM353 295h3v1h-3zM226 296h1v1h-1zM328 296h1v2h-1zM334 296h4v1h-4zM352 296h1v1h-1zM356 296h4v1h-4zM227 297h1v1h-1zM338 297h1v1h-1zM351 297h1v1h-1zM360 297h2v1h-2zM228 298h1v1h-1zM327 298h1v1h-1zM339 298h1v1h-1zM350 298h1v1h-1zM362 298h1v1h-1zM229 299h1v2h-1zM326 299h1v1h-1zM340 299h2v1h-2zM349 299h1v1h-1zM363 299h1v2h-1zM325 300h1v2h-1zM342 300h1v1h-1zM348 300h1v1h-1zM230 301h1v1h-1zM343 301h1v1h-1zM347 301h1v1h-1zM364 301h1v1h-1zM231 302h1v1h-1zM324 302h1v1h-1zM344 302h1v1h-1zM346 302h1v1h-1zM365 302h1v1h-1zM232 303h1v1h-1zM323 303h1v1h-1zM345 303h1v1h-1zM366 303h1v1h-1zM233 304h1v1h-1zM322 304h1v2h-1zM367 304h1v2h-1zM234 305h1v1h-1zM235 306h1v1h-1zM321 306h1v1h-1zM368 306h1v1h-1zM236 307h2v1h-2zM320 307h1v1h-1zM369 307h1v1h-1zM238 308h1v1h-1zM319 308h1v1h-1zM370 308h1v1h-1zM239 309h1v1h-1zM318 309h1v1h-1zM371 309h1v1h-1zM240 310h1v1h-1zM317 310h1v1h-1zM372 310h1v1h-1zM241 311h1v1h-1zM316 311h1v1h-1zM373 311h1v2h-1zM242 312h2v1h-2zM315 312h1v1h-1zM244 313h1v1h-1zM314 313h1v1h-1zM374 313h1v1h-1zM245 314h1v1h-1zM313 314h1v1h-1zM375 314h1v1h-1zM246 315h2v1h-2zM311 315h2v1h-2zM376 315h1v1h-1zM248 316h1v1h-1zM310 316h1v1h-1zM377 316h2v1h-2zM249 317h1v1h-1zM308 317h2v1h-2zM379 317h2v1h-2zM424 317h3v1h-3zM250 318h1v1h-1zM306 318h2v1h-2zM381 318h2v1h-2zM420 318h4v1h-4zM427 318h3v1h-3zM251 319h1v1h-1zM305 319h1v1h-1zM383 319h2v1h-2zM414 319h6v1h-6zM430 319h2v1h-2zM252 320h1v1h-1zM304 320h1v1h-1zM385 320h29v1h-29zM432 320h4v1h-4zM253 321h1v1h-1zM302 321h2v1h-2zM436 321h4v1h-4zM254 322h1v1h-1zM301 322h1v1h-1zM440 322h4v1h-4zM255 323h1v1h-1zM300 323h1v1h-1zM444 323h4v1h-4zM256 324h1v1h-1zM298 324h2v1h-2zM448 324h14v1h-14zM257 325h1v1h-1zM297 325h1v1h-1zM462 325h4v1h-4zM258 326h1v1h-1zM296 326h1v1h-1zM466 326h2v1h-2zM259 327h1v1h-1zM295 327h1v1h-1zM468 327h2v1h-2zM260 328h2v1h-2zM294 328h1v1h-1zM470 328h1v1h-1zM262 329h1v1h-1zM292 329h2v1h-2zM471 329h2v1h-2zM263 330h1v1h-1zM291 330h1v1h-1zM473 330h1v2h-1zM264 331h1v1h-1zM290 331h1v1h-1zM265 332h1v1h-1zM289 332h1v1h-1zM474 332h1v2h-1zM266 333h2v1h-2zM287 333h2v1h-2zM268 334h1v1h-1zM286 334h1v1h-1zM475 334h1v2h-1zM269 335h1v1h-1zM284 335h2v1h-2zM270 336h2v1h-2zM282 336h2v1h-2zM476 336h1v2h-1zM272 337h1v1h-1zM278 337h4v1h-4zM273 338h5v1h-5zM477 338h1v2h-1zM478 340h1v2h-1zM479 342h1v2h-1zM480 344h1v2h-1zM481 346h1v1h-1zM482 347h1v2h-1zM483 349h1v2h-1zM484 351h1v2h-1zM485 353h1v1h-1zM486 354h1v2h-1zM487 356h1v2h-1zM488 358h1v2h-1zM489 360h1v1h-1zM490 361h1v2h-1zM491 363h1v2h-1zM492 365h1v2h-1zM493 367h1v2h-1zM494 369h1v2h-1zM495 371h1v2h-1zM496 373h1v2h-1zM497 375h1v1h-1zM498 376h1v2h-1zM499 378h1v2h-1zM500 380h1v1h-1zM501 381h1v2h-1zM502 383h1v1h-1zM503 384h1v2h-1zM504 386h1v2h-1zM505 388h1v1h-1zM506 389h1v2h-1zM507 391h1v1h-1zM508 392h1v2h-1zM509 394h1v1h-1zM510 395h1v2h-1zM511 397h1v1h-1zM512 398h1v2h-1zM513 400h1v2h-1zM514 402h1v2h-1zM515 404h1v2h-1zM516 406h1v3h-1zM517 409h1v2h-1zM518 411h1v3h-1zM519 414h1v2h-1zM520 416h1v2h-1zM521 418h1v3h-1zM522 421h1v2h-1zM523 423h1v2h-1zM1201 424h3v1h-3zM524 425h1v3h-1zM1200 425h1v1h-1zM1204 425h4v1h-4zM1199 426h1v1h-1zM1208 426h4v1h-4zM1198 427h1v1h-1zM1212 427h4v1h-4zM525 428h1v2h-1zM1196 428h2v1h-2zM1216 428h4v1h-4zM1195 429h1v1h-1zM1220 429h4v1h-4zM526 430h1v3h-1zM1194 430h1v1h-1zM1224 430h3v1h-3zM1193 431h1v1h-1zM1227 431h2v1h-2zM1191 432h2v1h-2zM1229 432h2v1h-2zM527 433h1v2h-1zM1189 433h2v1h-2zM1231 433h2v1h-2zM1187 434h2v1h-2zM1233 434h1v1h-1zM528 435h1v2h-1zM1184 435h3v1h-3zM1234 435h2v1h-2zM1180 436h4v1h-4zM1236 436h2v1h-2zM529 437h1v3h-1zM1176 437h4v1h-4zM1238 437h1v1h-1zM1172 438h4v1h-4zM1239 438h2v1h-2zM1169 439h3v1h-3zM1241 439h1v1h-1zM530 440h1v2h-1zM1167 440h2v1h-2zM1242 440h1v1h-1zM1165 441h2v1h-2zM1243 441h1v1h-1zM531 442h1v3h-1zM1163 442h2v1h-2zM1244 442h1v1h-1zM1161 443h2v1h-2zM1245 443h1v1h-1zM1030 444h13v1h-13zM1160 444h1v1h-1zM1246 444h1v1h-1zM532 445h1v2h-1zM1025 445h5v1h-5zM1043 445h2v1h-2zM1158 445h2v1h-2zM1247 445h1v1h-1zM1024 446h1v1h-1zM1045 446h2v1h-2zM1157 446h1v1h-1zM1248 446h1v1h-1zM533 447h1v3h-1zM1023 447h1v1h-1zM1047 447h2v1h-2zM1156 447h1v1h-1zM1249 447h1v1h-1zM1022 448h1v1h-1zM1049 448h1v1h-1zM1154 448h2v1h-2zM1250 448h1v2h-1zM1021 449h1v2h-1zM1050 449h1v1h-1zM1152 449h2v1h-2zM534 450h1v2h-1zM1051 450h1v1h-1zM1150 450h2v1h-2zM1251 450h1v2h-1zM1020 451h1v1h-1zM1052 451h1v1h-1zM1147 451h3v1h-3zM535 452h1v3h-1zM1019 452h1v1h-1zM1053 452h1v2h-1zM1144 452h3v1h-3zM1252 452h1v1h-1zM1018 453h1v1h-1zM1142 453h2v1h-2zM1253 453h1v2h-1zM1017 454h1v1h-1zM1054 454h1v1h-1zM1139 454h3v1h-3zM536 455h1v2h-1zM1016 455h1v1h-1zM1055 455h1v1h-1zM1134 455h5v1h-5zM1254 455h1v1h-1zM1015 456h1v2h-1zM1056 456h1v1h-1zM1121 456h13v1h-13zM1255 456h1v2h-1zM537 457h1v3h-1zM1057 457h1v1h-1zM1119 457h2v1h-2zM1014 458h1v1h-1zM1058 458h2v1h-2zM1117 458h2v1h-2zM1256 458h1v2h-1zM1013 459h1v1h-1zM1060 459h2v1h-2zM1115 459h2v1h-2zM538 460h1v2h-1zM1012 460h1v1h-1zM1062 460h1v1h-1zM1113 460h2v1h-2zM1257 460h1v1h-1zM1011 461h1v2h-1zM1063 461h2v1h-2zM1112 461h1v1h-1zM1258 461h1v2h-1zM539 462h1v2h-1zM1065 462h1v1h-1zM1110 462h2v1h-2zM1010 463h1v1h-1zM1066 463h2v1h-2zM1109 463h1v1h-1zM1259 463h1v1h-1zM540 464h1v3h-1zM1009 464h1v2h-1zM1068 464h2v1h-2zM1108 464h1v1h-1zM1260 464h1v1h-1zM1070 465h1v1h-1zM1106 465h2v1h-2zM1261 465h1v2h-1zM1008 466h1v2h-1zM1071 466h2v1h-2zM1104 466h2v1h-2zM541 467h1v2h-1zM1073 467h2v1h-2zM1102 467h2v1h-2zM1262 467h1v1h-1zM1440 467h4v1h-4zM1007 468h1v2h-1zM1075 468h3v1h-3zM1099 468h3v1h-3zM1263 468h1v1h-1zM1438 468h2v1h-2zM1444 468h4v1h-4zM542 469h1v3h-1zM1078 469h2v1h-2zM1094 469h5v1h-5zM1264 469h1v2h-1zM1435 469h3v1h-3zM1448 469h2v1h-2zM1006 470h1v2h-1zM1080 470h14v1h-14zM1433 470h2v1h-2zM1265 471h1v1h-1zM1431 471h2v1h-2zM543 472h1v2h-1zM1005 472h1v3h-1zM1266 472h1v1h-1zM1429 472h2v1h-2zM1267 473h1v1h-1zM1427 473h2v1h-2zM544 474h1v2h-1zM1268 474h1v1h-1zM1424 474h3v1h-3zM1004 475h1v2h-1zM1269 475h1v1h-1zM1422 475h2v1h-2zM545 476h1v3h-1zM1270 476h1v1h-1zM1419 476h3v1h-3zM1003 477h1v2h-1zM1271 477h1v1h-1zM1416 477h3v1h-3zM1272 478h1v1h-1zM1412 478h4v1h-4zM546 479h1v2h-1zM1002 479h1v2h-1zM1273 479h2v1h-2zM1409 479h3v1h-3zM1275 480h2v1h-2zM1407 480h2v1h-2zM547 481h1v2h-1zM1001 481h1v2h-1zM1277 481h2v1h-2zM1405 481h2v1h-2zM1279 482h2v1h-2zM1403 482h2v1h-2zM548 483h1v2h-1zM1000 483h1v2h-1zM1281 483h2v1h-2zM1382 483h21v1h-21zM672 484h4v1h-4zM1283 484h3v1h-3zM1376 484h6v1h-6zM549 485h1v2h-1zM668 485h4v1h-4zM676 485h4v1h-4zM999 485h1v2h-1zM1286 485h2v1h-2zM1372 485h4v1h-4zM664 486h4v1h-4zM680 486h3v1h-3zM1288 486h3v1h-3zM1368 486h4v1h-4zM550 487h1v2h-1zM662 487h2v1h-2zM683 487h3v1h-3zM998 487h1v2h-1zM1291 487h3v1h-3zM1366 487h2v1h-2zM659 488h3v1h-3zM686 488h2v1h-2zM1294 488h2v1h-2zM1363 488h3v1h-3zM551 489h1v2h-1zM656 489h3v1h-3zM688 489h4v1h-4zM997 489h1v1h-1zM1296 489h3v1h-3zM1360 489h3v1h-3zM652 490h4v1h-4zM692 490h4v1h-4zM996 490h1v2h-1zM1299 490h2v1h-2zM1358 490h2v1h-2zM552 491h1v2h-1zM648 491h4v1h-4zM696 491h2v1h-2zM1301 491h2v1h-2zM1355 491h3v1h-3zM644 492h4v1h-4zM698 492h2v1h-2zM995 492h1v2h-1zM1303 492h2v1h-2zM1352 492h3v1h-3zM553 493h1v1h-1zM641 493h3v1h-3zM700 493h2v1h-2zM1305 493h1v1h-1zM1350 493h2v1h-2zM554 494h1v2h-1zM639 494h2v1h-2zM702 494h1v1h-1zM994 494h1v2h-1zM1306 494h2v1h-2zM1347 494h3v1h-3zM637 495h2v1h-2zM703 495h2v1h-2zM1308 495h2v1h-2zM1344 495h3v1h-3zM555 496h1v1h-1zM635 496h2v1h-2zM705 496h5v1h-5zM993 496h1v1h-1zM1310 496h1v1h-1zM1340 496h4v1h-4zM556 497h1v2h-1zM633 497h2v1h-2zM710 497h8v1h-8zM992 497h1v2h-1zM1311 497h2v1h-2zM1336 497h4v1h-4zM632 498h1v1h-1zM718 498h4v1h-4zM1313 498h5v1h-5zM1332 498h4v1h-4zM557 499h1v1h-1zM631 499h1v2h-1zM722 499h1v1h-1zM991 499h1v1h-1zM1318 499h14v1h-14zM558 500h1v2h-1zM723 500h1v1h-1zM990 500h1v1h-1zM630 501h1v1h-1zM724 501h1v1h-1zM989 501h1v2h-1zM559 502h1v1h-1zM629 502h1v1h-1zM725 502h1v1h-1zM560 503h1v2h-1zM628 503h1v1h-1zM726 503h1v1h-1zM988 503h1v1h-1zM627 504h1v2h-1zM727 504h1v1h-1zM987 504h1v1h-1zM561 505h1v1h-1zM728 505h1v1h-1zM986 505h1v2h-1zM562 506h1v1h-1zM626 506h1v1h-1zM729 506h1v1h-1zM563 507h1v1h-1zM625 507h1v1h-1zM730 507h1v1h-1zM985 507h1v1h-1zM564 508h2v1h-2zM624 508h1v2h-1zM731 508h1v2h-1zM984 508h1v1h-1zM566 509h1v1h-1zM983 509h1v1h-1zM567 510h1v1h-1zM623 510h1v1h-1zM732 510h1v1h-1zM982 510h1v1h-1zM568 511h1v1h-1zM622 511h1v2h-1zM733 511h1v1h-1zM981 511h1v2h-1zM569 512h1v1h-1zM734 512h1v1h-1zM570 513h2v1h-2zM621 513h1v1h-1zM735 513h1v2h-1zM980 513h1v1h-1zM572 514h1v1h-1zM620 514h1v2h-1zM979 514h1v1h-1zM573 515h1v1h-1zM736 515h1v1h-1zM978 515h1v1h-1zM574 516h2v1h-2zM619 516h1v1h-1zM737 516h1v1h-1zM977 516h1v1h-1zM576 517h1v1h-1zM618 517h1v2h-1zM738 517h1v2h-1zM976 517h1v1h-1zM577 518h1v1h-1zM975 518h1v1h-1zM578 519h2v1h-2zM617 519h1v1h-1zM739 519h1v1h-1zM974 519h1v1h-1zM580 520h2v1h-2zM616 520h1v1h-1zM740 520h1v1h-1zM973 520h1v1h-1zM582 521h1v1h-1zM615 521h1v1h-1zM741 521h1v2h-1zM972 521h1v1h-1zM583 522h2v1h-2zM614 522h1v1h-1zM971 522h1v1h-1zM585 523h1v1h-1zM612 523h2v1h-2zM742 523h1v1h-1zM970 523h1v1h-1zM586 524h2v1h-2zM611 524h1v1h-1zM743 524h1v1h-1zM969 524h1v1h-1zM588 525h2v1h-2zM610 525h1v1h-1zM744 525h1v2h-1zM968 525h1v1h-1zM590 526h1v1h-1zM609 526h1v1h-1zM966 526h2v1h-2zM591 527h2v1h-2zM607 527h2v1h-2zM745 527h1v1h-1zM965 527h1v1h-1zM593 528h3v1h-3zM605 528h2v1h-2zM746 528h1v1h-1zM964 528h1v1h-1zM596 529h4v1h-4zM603 529h2v1h-2zM747 529h1v1h-1zM962 529h2v1h-2zM600 530h3v1h-3zM748 530h2v1h-2zM961 530h1v1h-1zM750 531h1v1h-1zM960 531h1v1h-1zM751 532h1v1h-1zM959 532h1v1h-1zM752 533h1v1h-1zM958 533h1v1h-1zM753 534h1v1h-1zM956 534h2v1h-2zM754 535h1v1h-1zM955 535h1v1h-1zM755 536h1v1h-1zM954 536h1v1h-1zM756 537h2v1h-2zM953 537h1v1h-1zM758 538h1v1h-1zM952 538h1v1h-1zM759 539h1v1h-1zM951 539h1v1h-1zM760 540h1v1h-1zM950 540h1v1h-1zM761 541h1v1h-1zM948 541h2v1h-2zM762 542h1v1h-1zM947 542h1v1h-1zM763 543h1v1h-1zM946 543h1v1h-1zM764 544h2v1h-2zM945 544h1v1h-1zM766 545h1v1h-1zM846 545h16v1h-16zM944 545h1v1h-1zM767 546h1v1h-1zM838 546h8v1h-8zM862 546h4v1h-4zM943 546h1v2h-1zM768 547h1v1h-1zM833 547h5v1h-5zM866 547h1v1h-1zM769 548h1v1h-1zM831 548h2v1h-2zM867 548h1v1h-1zM942 548h1v1h-1zM770 549h1v1h-1zM829 549h2v1h-2zM868 549h2v1h-2zM941 549h1v1h-1zM771 550h1v1h-1zM827 550h2v1h-2zM870 550h1v1h-1zM940 550h1v1h-1zM772 551h1v1h-1zM825 551h2v1h-2zM871 551h1v1h-1zM939 551h1v2h-1zM773 552h1v1h-1zM823 552h2v1h-2zM872 552h1v1h-1zM774 553h1v1h-1zM822 553h1v1h-1zM873 553h1v1h-1zM938 553h1v1h-1z"/>
</g>
<g shape-rendering="crispEdges">
<rect x="0" y="377" width="1644" height="1" fill="#ff4500"/>
<rect x="0" y="411" width="1644" height="1" fill="#ff0000"/>
<rect x="0" y="452" width="1644" height="1" fill="#32cd32"/>
<rect x="0" y="459" width="1644" height="1" fill="#c0c0c0"/>
<rect x="0" y="481" width="1644" height="1" fill="#0000ff"/>
<rect x="0" y="511" width="1644" height="1" fill="#0000ff"/>
</g>
<g fill="#c0c0c0" shape-rendering="crispEdges">
<rect x="1" y="603" width="1" height="31"/>
<rect x="9" y="605" width="1" height="29"/>
<rect x="17" y="608" width="1" height="26"/>
<rect x="25" y="607" width="1" height="27"/>
<rect x="33" y="605" width="1" height="29"/>
<rect x="41" y="605" width="1" height="29"/>
<rect x="49" y="608" width="1" height="26"/>
<rect x="57" y="610" width="1" height="24"/>
<rect x="65" y="614" width="1" height="20"/>
<rect x="73" y="618" width="1" height="16"/>
<rect x="81" y="624" width="1" height="10"/>
<rect x="89" y="631" width="1" height="3"/>
<rect x="97" y="632" width="1" height="2"/>
<rect x="105" y="632" width="1" height="2"/>
<rect x="113" y="632" width="1" height="2"/>
<rect x="121" y="632" width="1" height="2"/>
<rect x="129" y="630" width="1" height="4"/>
<rect x="137" y="631" width="1" height="3"/>
<rect x="153" y="634" width="1" height="8"/>
<rect x="161" y="634" width="1" height="13"/>
<rect x="169" y="634" width="1" height="20"/>
<rect x="177" y="634" width="1" height="32"/>
<rect x="185" y="634" width="1" height="52"/>
<rect x="193" y="634" width="1" height="85"/>
<rect x="201" y="634" width="1" height="95"/>
<rect x="209" y="634" width="1" height="102"/>
<rect x="217" y="634" width="1" height="100"/>
<rect x="225" y="634" width="1" height="97"/>
<rect x="233" y="634" width="1" height="99"/>
<rect x="241" y="634" width="1" height="95"/>
<rect x="249" y="634" width="1" height="92"/>
<rect x="257" y="634" width="1" height="95"/>
<rect x="265" y="634" width="1" height="96"/>
<rect x="273" y="634" width="1" height="95"/>
<rect x="281" y="634" width="1" height="89"/>
<rect x="289" y="634" width="1" height="80"/>
<rect x="297" y="634" width="1" height="73"/>
<rect x="305" y="634" width="1" height="66"/>
<rect x="313" y="634" width="1" height="61"/>
<rect x="321" y="634" width="1" height="54"/>
<rect x="329" y="634" width="1" height="51"/>
<rect x="337" y="634" width="1" height="56"/>
<rect x="345" y="634" width="1" height="66"/>
<rect x="353" y="634" width="1" height="67"/>
<rect x="361" y="634" width="1" height="71"/>
<rect x="369" y="634" width="1" height="78"/>
<rect x="377" y="634" width="1" height="76"/>
<rect x="385" y="634" width="1" height="76"/>
<rect x="393" y="634" width="1" height="66"/>
<rect x="401" y="634" width="1" height="55"/>
<rect x="409" y="634" width="1" height="46"/>
<rect x="417" y="634" width="1" height="38"/>
<rect x="425" y="634" width="1" height="35"/>
<rect x="433" y="634" width="1" height="37"/>
<rect x="441" y="634" width="1" height="38"/>
<rect x="449" y="634" width="1" height="37"/>
<rect x="457" y="634" width="1" height="37"/>
<rect x="465" y="634" width="1" height="39"/>
<rect x="473" y="634" width="1" height="45"/>
<rect x="481" y="634" width="1" height="60"/>
<rect x="489" y="634" width="1" height="70"/>
<rect x="497" y="634" width="1" height="79"/>
<rect x="505" y="634" width="1" height="85"/>
<rect x="513" y="634" width="1" height="90"/>
<rect x="521" y="634" width="1" height="98"/>
<rect x="529" y="634" width="1" height="107"/>
<rect x="537" y="634" width="1" height="118"/>
<rect x="545" y="634" width="1" height="124"/>
<rect x="553" y="634" width="1" height="126"/>
<rect x="561" y="634" width="1" height="131"/>
<rect x="569" y="634" width="1" height="129"/>
<rect x="577" y="634" width="1" height="127"/>
<rect x="585" y="634" width="1" height="124"/>
<rect x="593" y="634" width="1" height="123"/>
<rect x="601" y="634" width="1" height="118"/>
<rect x="609" y="634" width="1" height="113"/>
<rect x="617" y="634" width="1" height="102"/>
<rect x="625" y="634" width="1" height="91"/>
<rect x="633" y="634" width="1" height="78"/>
<rect x="641" y="634" width="1" height="66"/>
<rect x="649" y="634" width="1" height="59"/>
<rect x="657" y="634" width="1" height="49"/>
<rect x="665" y="634" width="1" height="45"/>
<rect x="673" y="634" width="1" height="46"/>
<rect x="681" y="634" width="1" height="51"/>
<rect x="689" y="634" width="1" height="54"/>
<rect x="697" y="634" width="1" height="56"/>
<rect x="705" y="634" width="1" height="62"/>
<rect x="713" y="634" width="1" height="59"/>
<rect x="721" y="634" width="1" height="60"/>
<rect x="729" y="634" width="1" height="67"/>
<rect x="737" y="634" width="1" height="70"/>
<rect x="745" y="634" width="1" height="76"/>
<rect x="753" y="634" width="1" height="77"/>
<rect x="761" y="634" width="1" height="79"/>
<rect x="769" y="634" width="1" height="76"/>
<rect x="777" y="634" width="1" height="80"/>
<rect x="785" y="634" width="1" height="80"/>
<rect x="793" y="634" width="1" height="76"/>
<rect x="801" y="634" width="1" height="71"/>
<rect x="809" y="634" width="1" height="65"/>
<rect x="817" y="634" width="1" height="57"/>
<rect x="825" y="634" width="1" height="53"/>
<rect x="833" y="634" width="1" height="50"/>
<rect x="841" y="634" width="1" height="46"/>
<rect x="849" y="634" width="1" height="44"/>
<rect x="857" y="634" width="1" height="34"/>
<rect x="865" y="634" width="1" height="25"/>
<rect x="873" y="634" width="1" height="10"/>
<rect x="889" y="624" width="1" height="10"/>
<rect x="897" y="613" width="1" height="21"/>
<rect x="905" y="601" width="1" height="33"/>
<rect x="913" y="598" width="1" height="36"/>
<rect x="921" y="597" width="1" height="37"/>
<rect x="929" y="596" width="1" height="38"/>
<rect x="937" y="595" width="1" height="39"/>
<rect x="945" y="596" width="1" height="38"/>
<rect x="953" y="600" width="1" height="34"/>
<rect x="961" y="600" width="1" height="34"/>
<rect x="969" y="595" width="1" height="39"/>
<rect x="977" y="596" width="1" height="38"/>
<rect x="985" y="599" width="1" height="35"/>
<rect x="993" y="602" width="1" height="32"/>
<rect x="1001" y="606" width="1" height="28"/>
<rect x="1009" y="601" width="1" height="33"/>
<rect x="1017" y="603" width="1" height="31"/>
<rect x="1025" y="604" width="1" height="30"/>
<rect x="1033" y="607" width="1" height="27"/>
<rect x="1041" y="612" width="1" height="22"/>
<rect x="1049" y="605" width="1" height="29"/>
<rect x="1057" y="593" width="1" height="41"/>
<rect x="1065" y="585" width="1" height="49"/>
<rect x="1073" y="578" width="1" height="56"/>
<rect x="1081" y="570" width="1" height="64"/>
<rect x="1089" y="568" width="1" height="66"/>
<rect x="1097" y="576" width="1" height="58"/>
<rect x="1105" y="581" width="1" height="53"/>
<rect x="1113" y="587" width="1" height="47"/>
<rect x="1121" y="592" width="1" height="42"/>
<rect x="1129" y="599" width="1" height="35"/>
<rect x="1137" y="606" width="1" height="28"/>
<rect x="1145" y="609" width="1" height="25"/>
<rect x="1153" y="614" width="1" height="20"/>
<rect x="1161" y="617" width="1" height="17"/>
<rect x="1169" y="620" width="1" height="14"/>
<rect x="1177" y="620" width="1" height="14"/>
<rect x="1185" y="623" width="1" height="11"/>
<rect x="1193" y="624" width="1" height="10"/>
<rect x="1201" y="626" width="1" height="8"/>
<rect x="1209" y="629" width="1" height="5"/>
<rect x="1217" y="632" width="1" height="2"/>
<rect x="1225" y="634" width="1" height="2"/>
<rect x="1233" y="634" width="1" height="9"/>
<rect x="1241" y="634" width="1" height="18"/>
<rect x="1249" y="634" width="1" height="28"/>
<rect x="1257" y="634" width="1" height="35"/>
<rect x="1265" y="634" width="1" height="40"/>
<rect x="1273" y="634" width="1" height="43"/>
<rect x="1281" y="634" width="1" height="46"/>
<rect x="1289" y="634" width="1" height="43"/>
<rect x="1297" y="634" width="1" height="39"/>
<rect x="1305" y="634" width="1" height="41"/>
<rect x="1313" y="634" width="1" height="42"/>
<rect x="1321" y="634" width="1" height="40"/>
<rect x="1329" y="634" width="1" height="36"/>
<rect x="1337" y="634" width="1" height="27"/>
<rect x="1345" y="634" width="1" height="22"/>
<rect x="1353" y="634" width="1" height="19"/>
<rect x="1361" y="634" width="1" height="17"/>
<rect x="1369" y="634" width="1" height="17"/>
<rect x="1377" y="634" width="1" height="15"/>
<rect x="1385" y="634" width="1" height="15"/>
<rect x="1393" y="634" width="1" height="10"/>
<rect x="1401" y="634" width="1" height="8"/>
<rect x="1409" y="634" width="1" height="7"/>
<rect x="1417" y="634" width="1" height="7"/>
<rect x="1425" y="634" width="1" height="8"/>
<rect x="1433" y="634" width="1" height="9"/>
<rect x="1441" y="634" width="1" height="11"/>
<rect x="1449" y="634" width="1" height="12"/>
</g>
<path fill="#ff0000" shape-rendering="crispEdges" d="M1118 581h3v1h-3zM1124 581h3v1h-3zM1130 581h2v1h-2zM1112 582h3v1h-3zM1132 582h1v1h-1zM1136 583h3v1h-3zM1107 584h2v1h-2zM1106 585h1v1h-1zM1142 585h2v1h-2zM1102 586h1v1h-1zM1144 586h1v1h-1zM1100 587h2v1h-2zM1096 588h1v1h-1zM1148 588h2v1h-2zM1094 589h2v1h-2zM1150 589h1v1h-1zM1089 591h2v1h-2zM1088 592h1v1h-1zM1154 592h2v1h-2zM1156 593h1v1h-1zM1083 594h2v1h-2zM1082 595h1v1h-1zM1160 595h1v1h-1zM976 596h1v1h-1zM980 596h3v1h-3zM986 596h3v1h-3zM1161 596h1v1h-1zM974 597h2v1h-2zM992 597h3v1h-3zM1077 597h2v1h-2zM1162 597h1v1h-1zM968 598h3v1h-3zM998 598h2v1h-2zM1076 598h1v1h-1zM964 599h1v1h-1zM1000 599h1v1h-1zM1004 599h3v1h-3zM1010 599h3v1h-3zM1072 599h1v1h-1zM1166 599h1v1h-1zM962 600h2v1h-2zM1016 600h3v1h-3zM1022 600h3v1h-3zM1028 600h2v1h-2zM1070 600h2v1h-2zM1167 600h2v1h-2zM24 601h3v1h-3zM956 601h3v1h-3zM1030 601h1v1h-1zM1034 601h3v1h-3zM6 602h3v1h-3zM12 602h3v1h-3zM18 602h3v1h-3zM30 602h3v1h-3zM36 602h3v1h-3zM42 602h3v1h-3zM952 602h1v1h-1zM1040 602h3v1h-3zM1064 602h3v1h-3zM1 603h2v1h-2zM48 603h3v1h-3zM950 603h2v1h-2zM1046 603h3v1h-3zM1052 603h3v1h-3zM1058 603h3v1h-3zM1172 603h2v1h-2zM0 604h1v1h-1zM54 604h2v1h-2zM1174 604h1v1h-1zM56 605h1v1h-1zM945 605h2v1h-2zM60 606h3v1h-3zM944 606h1v1h-1zM1178 606h1v1h-1zM66 607h3v1h-3zM1179 607h2v1h-2zM72 608h3v1h-3zM78 609h2v1h-2zM940 609h1v1h-1zM1184 609h1v1h-1zM80 610h1v1h-1zM938 610h2v1h-2zM1185 610h2v1h-2zM84 611h2v1h-2zM86 612h1v1h-1zM1190 612h1v1h-1zM90 613h2v1h-2zM1191 613h2v1h-2zM92 614h1v1h-1zM934 614h1v1h-1zM96 615h3v1h-3zM933 615h1v1h-1zM1196 615h2v1h-2zM102 616h2v1h-2zM932 616h1v1h-1zM1198 616h1v1h-1zM104 617h1v1h-1zM1202 617h2v1h-2zM108 618h1v1h-1zM1204 618h1v1h-1zM109 619h2v1h-2zM1208 619h3v1h-3zM928 620h1v1h-1zM1214 620h2v1h-2zM114 621h1v1h-1zM927 621h1v1h-1zM1216 621h1v1h-1zM115 622h2v1h-2zM926 622h1v1h-1zM1220 622h2v1h-2zM1222 623h1v1h-1zM120 624h3v1h-3zM1226 624h1v1h-1zM1227 625h2v1h-2zM126 626h2v1h-2zM922 626h1v1h-1zM128 627h1v1h-1zM132 627h2v1h-2zM921 627h1v1h-1zM1232 627h3v1h-3zM134 628h1v1h-1zM138 628h2v1h-2zM920 628h1v1h-1zM140 629h1v1h-1zM1238 629h2v1h-2zM144 630h3v1h-3zM1240 630h1v1h-1zM150 631h2v1h-2zM152 632h1v1h-1zM916 632h1v1h-1zM1244 632h2v1h-2zM156 633h3v1h-3zM915 633h1v1h-1zM1246 633h1v1h-1zM162 634h1v1h-1zM914 634h1v1h-1zM163 635h2v1h-2zM1250 636h2v1h-2zM168 637h3v1h-3zM1252 637h1v1h-1zM910 638h1v1h-1zM174 639h2v1h-2zM909 639h1v2h-1zM176 640h1v1h-1zM1256 640h1v1h-1zM1257 641h1v1h-1zM1448 641h2v1h-2zM180 642h1v1h-1zM1258 642h1v1h-1zM1442 642h3v1h-3zM181 643h1v1h-1zM1436 643h3v1h-3zM182 644h1v1h-1zM905 644h1v1h-1zM1432 644h1v1h-1zM904 645h1v1h-1zM1262 645h2v1h-2zM1430 645h2v1h-2zM903 646h1v1h-1zM1264 646h1v1h-1zM1424 646h3v1h-3zM186 647h1v1h-1zM1420 647h1v1h-1zM187 648h1v2h-1zM1414 648h1v1h-1zM1418 648h2v1h-2zM1268 649h1v1h-1zM1408 649h1v1h-1zM1412 649h2v1h-2zM900 650h1v1h-1zM1269 650h1v1h-1zM1406 650h2v1h-2zM899 651h1v1h-1zM1270 651h1v1h-1zM898 652h1v1h-1zM1400 652h3v1h-3zM191 653h1v2h-1zM1274 654h2v1h-2zM1395 654h2v1h-2zM192 655h1v1h-1zM1276 655h1v1h-1zM1394 655h1v1h-1zM894 656h1v1h-1zM1390 656h1v1h-1zM893 657h1v1h-1zM1388 657h2v1h-2zM892 658h1v1h-1zM1280 658h1v1h-1zM195 659h1v1h-1zM1281 659h1v1h-1zM1383 659h2v1h-2zM196 660h1v1h-1zM1282 660h1v1h-1zM1382 660h1v1h-1zM197 661h1v1h-1zM888 662h1v1h-1zM1376 662h3v1h-3zM887 663h1v1h-1zM1286 663h2v1h-2zM1372 663h1v1h-1zM886 664h1v1h-1zM1288 664h1v1h-1zM1370 664h2v1h-2zM200 665h1v2h-1zM1364 665h3v1h-3zM1292 666h1v1h-1zM1360 666h1v1h-1zM201 667h1v1h-1zM1293 667h2v1h-2zM1358 667h2v1h-2zM882 668h1v1h-1zM881 669h1v1h-1zM1298 669h1v1h-1zM1352 669h3v1h-3zM880 670h1v1h-1zM1299 670h2v1h-2zM204 671h1v1h-1zM1347 671h2v1h-2zM205 672h1v1h-1zM1304 672h3v1h-3zM1346 672h1v1h-1zM206 673h1v1h-1zM470 673h3v1h-3zM1310 673h2v1h-2zM1340 673h3v1h-3zM465 674h2v1h-2zM476 674h3v1h-3zM876 674h1v1h-1zM1312 674h1v1h-1zM1316 674h2v1h-2zM1334 674h3v1h-3zM464 675h1v1h-1zM482 675h1v1h-1zM875 675h1v1h-1zM1318 675h1v1h-1zM1322 675h3v1h-3zM1328 675h3v1h-3zM483 676h2v1h-2zM874 676h1v1h-1zM209 677h1v1h-1zM459 677h2v1h-2zM210 678h1v2h-1zM458 678h1v1h-1zM488 678h3v1h-3zM453 680h2v1h-2zM494 680h1v1h-1zM870 680h1v1h-1zM452 681h1v1h-1zM495 681h2v1h-2zM868 681h2v1h-2zM213 683h1v1h-1zM447 683h2v1h-2zM214 684h1v1h-1zM446 684h1v1h-1zM500 684h1v1h-1zM215 685h1v1h-1zM501 685h1v1h-1zM864 685h1v1h-1zM441 686h2v1h-2zM502 686h1v1h-1zM862 686h2v1h-2zM440 687h1v1h-1zM712 688h3v1h-3zM218 689h1v2h-1zM435 689h2v1h-2zM506 689h1v1h-1zM702 689h1v1h-1zM706 689h3v1h-3zM718 689h3v1h-3zM724 689h2v1h-2zM858 689h1v1h-1zM434 690h1v1h-1zM507 690h1v1h-1zM700 690h2v1h-2zM726 690h1v1h-1zM730 690h1v1h-1zM857 690h1v1h-1zM219 691h1v1h-1zM508 691h1v1h-1zM695 691h2v1h-2zM731 691h2v1h-2zM856 691h1v1h-1zM429 692h2v1h-2zM694 692h1v1h-1zM428 693h1v1h-1zM736 693h3v1h-3zM852 693h1v1h-1zM512 694h1v1h-1zM690 694h1v1h-1zM850 694h2v1h-2zM222 695h1v1h-1zM423 695h2v1h-2zM513 695h1v1h-1zM689 695h1v1h-1zM742 695h2v1h-2zM223 696h1v1h-1zM422 696h1v1h-1zM514 696h1v1h-1zM688 696h1v1h-1zM744 696h1v1h-1zM224 697h1v1h-1zM748 697h2v1h-2zM845 697h2v1h-2zM352 698h1v1h-1zM356 698h3v1h-3zM362 698h3v1h-3zM368 698h3v1h-3zM374 698h3v1h-3zM416 698h3v1h-3zM518 698h1v1h-1zM684 698h1v1h-1zM750 698h1v1h-1zM844 698h1v1h-1zM350 699h2v1h-2zM380 699h2v1h-2zM519 699h2v1h-2zM682 699h2v1h-2zM754 699h2v1h-2zM840 699h1v1h-1zM345 700h2v1h-2zM382 700h1v1h-1zM411 700h2v1h-2zM756 700h1v1h-1zM838 700h2v1h-2zM226 701h1v1h-1zM344 701h1v1h-1zM386 701h3v1h-3zM392 701h3v1h-3zM406 701h1v1h-1zM410 701h1v1h-1zM760 701h3v1h-3zM227 702h1v1h-1zM398 702h3v1h-3zM404 702h2v1h-2zM766 702h2v1h-2zM833 702h2v1h-2zM228 703h1v1h-1zM340 703h1v1h-1zM524 703h2v1h-2zM678 703h1v1h-1zM768 703h1v1h-1zM832 703h1v1h-1zM338 704h2v1h-2zM526 704h1v1h-1zM676 704h2v1h-2zM772 704h3v1h-3zM778 705h1v1h-1zM827 705h2v1h-2zM779 706h2v1h-2zM826 706h1v1h-1zM231 707h1v1h-1zM334 707h1v1h-1zM820 707h3v1h-3zM232 708h1v2h-1zM332 708h2v1h-2zM530 708h1v1h-1zM672 708h1v1h-1zM784 708h3v1h-3zM816 708h1v1h-1zM531 709h1v1h-1zM671 709h1v1h-1zM790 709h2v1h-2zM814 709h2v1h-2zM532 710h1v1h-1zM670 710h1v1h-1zM792 710h1v1h-1zM796 710h3v1h-3zM802 710h3v1h-3zM808 710h3v1h-3zM327 711h2v1h-2zM326 712h1v1h-1zM236 713h1v1h-1zM237 714h1v1h-1zM321 714h2v1h-2zM535 714h1v1h-1zM667 714h1v1h-1zM238 715h1v1h-1zM320 715h1v1h-1zM536 715h1v1h-1zM666 715h1v1h-1zM537 716h1v1h-1zM665 716h1v1h-1zM315 717h2v1h-2zM314 718h1v1h-1zM242 719h2v1h-2zM310 719h1v1h-1zM244 720h1v1h-1zM308 720h2v1h-2zM541 720h1v2h-1zM661 720h1v1h-1zM304 721h1v1h-1zM660 721h1v1h-1zM302 722h2v1h-2zM542 722h1v1h-1zM659 722h1v1h-1zM248 723h1v1h-1zM249 724h2v1h-2zM296 724h3v1h-3zM254 726h1v1h-1zM291 726h2v1h-2zM546 726h1v1h-1zM655 726h1v1h-1zM255 727h2v1h-2zM290 727h1v1h-1zM547 727h1v1h-1zM654 727h1v1h-1zM284 728h3v1h-3zM548 728h1v1h-1zM653 728h1v1h-1zM260 729h3v1h-3zM278 729h3v1h-3zM266 730h3v1h-3zM272 730h3v1h-3zM551 732h1v1h-1zM649 732h1v1h-1zM552 733h1v1h-1zM648 733h1v1h-1zM553 734h1v1h-1zM647 734h1v1h-1zM557 737h1v1h-1zM643 737h1v1h-1zM558 738h1v1h-1zM642 738h1v1h-1zM559 739h1v1h-1zM641 739h1v1h-1zM563 742h1v1h-1zM564 743h2v1h-2zM636 743h2v1h-2zM635 744h1v1h-1zM569 746h1v1h-1zM570 747h2v1h-2zM630 748h2v1h-2zM629 749h1v1h-1zM575 750h2v1h-2zM577 751h1v1h-1zM625 752h1v1h-1zM581 753h2v1h-2zM623 753h2v1h-2zM583 754h1v1h-1zM619 755h1v1h-1zM587 756h3v1h-3zM617 756h2v1h-2zM612 757h2v1h-2zM593 758h3v1h-3zM606 758h2v1h-2zM611 758h1v1h-1zM599 759h3v1h-3zM605 759h1v1h-1z"/>
<g stroke="#c0c0c0" stroke-width="1" stroke-dasharray="3,3" shape-rendering="crispEdges">
<line x1="-2" y1="807.5" x2="1644" y2="807.5"/>
<line x1="-2" y1="849.5" x2="1644" y2="849.5"/>
<line x1="-2" y1="898.5" x2="1644" y2="898.5"/>
</g>
<path fill="#1e90ff" shape-rendering="crispEdges" d="M1080 823h2v1h-2zM1078 824h2v1h-2zM1082 824h1v1h-1zM905 825h1v1h-1zM1075 825h3v1h-3zM1083 825h1v1h-1zM903 826h2v1h-2zM906 826h1v2h-1zM1070 826h5v1h-5zM1084 826h1v1h-1zM901 827h2v1h-2zM1057 827h13v1h-13zM1085 827h1v1h-1zM899 828h2v1h-2zM907 828h1v2h-1zM1056 828h1v1h-1zM1086 828h1v1h-1zM896 829h3v1h-3zM1054 829h2v1h-2zM1087 829h1v1h-1zM894 830h2v1h-2zM908 830h1v1h-1zM1053 830h1v1h-1zM1088 830h1v1h-1zM891 831h3v1h-3zM909 831h1v2h-1zM1052 831h1v1h-1zM1089 831h1v1h-1zM873 832h2v1h-2zM889 832h2v1h-2zM1050 832h2v1h-2zM1090 832h1v2h-1zM872 833h1v2h-1zM875 833h2v1h-2zM887 833h2v1h-2zM910 833h1v1h-1zM1049 833h1v2h-1zM877 834h2v1h-2zM885 834h2v1h-2zM911 834h1v2h-1zM968 834h2v1h-2zM1009 834h1v1h-1zM1091 834h1v2h-1zM32 835h3v1h-3zM871 835h1v1h-1zM879 835h2v1h-2zM883 835h2v1h-2zM966 835h2v1h-2zM970 835h1v1h-1zM1008 835h1v2h-1zM1010 835h1v1h-1zM1048 835h1v2h-1zM28 836h4v1h-4zM35 836h2v1h-2zM870 836h1v2h-1zM881 836h2v1h-2zM912 836h1v2h-1zM963 836h3v1h-3zM971 836h1v1h-1zM1011 836h1v2h-1zM1092 836h1v1h-1zM25 837h3v1h-3zM37 837h2v1h-2zM961 837h2v1h-2zM972 837h1v1h-1zM1007 837h1v2h-1zM1047 837h1v2h-1zM1093 837h1v2h-1zM24 838h1v1h-1zM39 838h2v1h-2zM869 838h1v1h-1zM913 838h5v1h-5zM926 838h16v1h-16zM960 838h1v1h-1zM973 838h1v1h-1zM1012 838h1v1h-1zM23 839h1v1h-1zM41 839h2v1h-2zM868 839h1v2h-1zM918 839h8v1h-8zM942 839h4v1h-4zM959 839h1v2h-1zM974 839h1v1h-1zM1006 839h1v1h-1zM1013 839h1v1h-1zM1046 839h1v2h-1zM1094 839h1v1h-1zM22 840h1v1h-1zM43 840h2v1h-2zM946 840h1v1h-1zM975 840h1v1h-1zM1005 840h1v2h-1zM1014 840h1v1h-1zM1095 840h1v2h-1zM21 841h1v2h-1zM45 841h2v1h-2zM867 841h1v1h-1zM947 841h1v1h-1zM958 841h1v1h-1zM976 841h1v1h-1zM1015 841h1v2h-1zM1045 841h1v2h-1zM9 842h2v1h-2zM47 842h2v1h-2zM129 842h1v1h-1zM866 842h1v2h-1zM948 842h1v1h-1zM957 842h1v1h-1zM977 842h11v1h-11zM1004 842h1v1h-1zM1024 842h2v1h-2zM1096 842h1v2h-1zM8 843h1v1h-1zM11 843h2v1h-2zM20 843h1v1h-1zM49 843h5v1h-5zM127 843h2v1h-2zM130 843h1v1h-1zM949 843h1v1h-1zM956 843h1v1h-1zM988 843h4v1h-4zM1003 843h1v2h-1zM1016 843h1v1h-1zM1020 843h4v1h-4zM1026 843h2v1h-2zM1044 843h1v2h-1zM1337 843h2v1h-2zM7 844h1v1h-1zM13 844h2v1h-2zM19 844h1v1h-1zM54 844h4v1h-4zM126 844h1v1h-1zM131 844h1v1h-1zM857 844h9v1h-9zM950 844h1v1h-1zM955 844h1v2h-1zM992 844h3v1h-3zM1017 844h3v1h-3zM1028 844h2v1h-2zM1097 844h19v1h-19zM1336 844h1v2h-1zM1339 844h3v1h-3zM6 845h1v1h-1zM15 845h2v1h-2zM18 845h1v1h-1zM58 845h2v1h-2zM124 845h2v1h-2zM132 845h1v1h-1zM856 845h1v2h-1zM951 845h1v1h-1zM995 845h3v1h-3zM1002 845h1v2h-1zM1030 845h1v1h-1zM1043 845h1v2h-1zM1116 845h4v1h-4zM1177 845h1v1h-1zM1342 845h2v1h-2zM1393 845h2v1h-2zM4 846h2v1h-2zM17 846h1v1h-1zM60 846h2v1h-2zM122 846h2v1h-2zM133 846h1v2h-1zM952 846h1v1h-1zM954 846h1v1h-1zM998 846h2v1h-2zM1031 846h2v1h-2zM1120 846h3v1h-3zM1175 846h2v1h-2zM1178 846h2v1h-2zM1335 846h1v1h-1zM1344 846h2v1h-2zM1392 846h1v1h-1zM1395 846h2v1h-2zM1408 846h3v1h-3zM3 847h1v1h-1zM62 847h1v1h-1zM120 847h2v1h-2zM855 847h1v2h-1zM953 847h1v1h-1zM1000 847h2v1h-2zM1033 847h2v1h-2zM1042 847h1v2h-1zM1123 847h3v1h-3zM1145 847h2v1h-2zM1173 847h2v1h-2zM1180 847h2v1h-2zM1192 847h4v1h-4zM1334 847h1v1h-1zM1346 847h2v1h-2zM1391 847h1v1h-1zM1397 847h2v1h-2zM1406 847h2v1h-2zM1411 847h2v1h-2zM2 848h1v1h-1zM63 848h2v1h-2zM97 848h13v1h-13zM116 848h4v1h-4zM134 848h1v1h-1zM657 848h1v1h-1zM1035 848h3v1h-3zM1126 848h2v1h-2zM1143 848h2v1h-2zM1147 848h2v1h-2zM1171 848h2v1h-2zM1182 848h1v1h-1zM1190 848h2v1h-2zM1196 848h4v1h-4zM1333 848h1v2h-1zM1348 848h2v1h-2zM1390 848h1v1h-1zM1399 848h2v1h-2zM1403 848h3v1h-3zM1413 848h2v1h-2zM1 849h1v1h-1zM65 849h3v1h-3zM96 849h1v2h-1zM110 849h6v1h-6zM135 849h1v1h-1zM400 849h18v1h-18zM656 849h1v1h-1zM658 849h1v1h-1zM854 849h1v2h-1zM1038 849h2v1h-2zM1041 849h1v2h-1zM1128 849h4v1h-4zM1141 849h2v1h-2zM1149 849h2v1h-2zM1160 849h11v1h-11zM1183 849h2v1h-2zM1187 849h3v1h-3zM1200 849h3v1h-3zM1350 849h1v1h-1zM1389 849h1v2h-1zM1401 849h2v1h-2zM1415 849h2v1h-2zM68 850h4v1h-4zM136 850h1v1h-1zM396 850h4v1h-4zM418 850h2v1h-2zM655 850h1v1h-1zM659 850h1v2h-1zM1040 850h1v1h-1zM1132 850h4v1h-4zM1139 850h2v1h-2zM1151 850h2v1h-2zM1156 850h4v1h-4zM1185 850h2v1h-2zM1203 850h3v1h-3zM1332 850h1v1h-1zM1351 850h2v1h-2zM1358 850h4v1h-4zM1377 850h2v1h-2zM1417 850h2v1h-2zM72 851h2v1h-2zM95 851h1v2h-1zM137 851h1v1h-1zM393 851h3v1h-3zM420 851h2v1h-2zM638 851h4v1h-4zM654 851h1v1h-1zM853 851h1v2h-1zM1136 851h3v1h-3zM1153 851h3v1h-3zM1206 851h2v1h-2zM1331 851h1v1h-1zM1353 851h5v1h-5zM1362 851h1v1h-1zM1376 851h1v1h-1zM1379 851h2v1h-2zM1388 851h1v1h-1zM1419 851h2v1h-2zM1432 851h2v1h-2zM74 852h1v1h-1zM138 852h1v1h-1zM392 852h1v2h-1zM422 852h1v1h-1zM633 852h5v1h-5zM642 852h2v1h-2zM653 852h1v1h-1zM660 852h1v1h-1zM1208 852h3v1h-3zM1330 852h1v2h-1zM1363 852h1v1h-1zM1375 852h1v1h-1zM1381 852h2v1h-2zM1387 852h1v1h-1zM1421 852h2v1h-2zM1430 852h2v1h-2zM1434 852h2v1h-2zM75 853h1v1h-1zM94 853h1v2h-1zM139 853h1v1h-1zM423 853h2v1h-2zM632 853h1v1h-1zM644 853h2v1h-2zM652 853h1v1h-1zM661 853h1v1h-1zM817 853h2v1h-2zM852 853h1v2h-1zM1211 853h3v1h-3zM1364 853h1v1h-1zM1374 853h1v1h-1zM1383 853h2v1h-2zM1386 853h1v1h-1zM1423 853h2v1h-2zM1427 853h3v1h-3zM1436 853h1v1h-1zM76 854h1v1h-1zM140 854h1v1h-1zM304 854h3v1h-3zM321 854h2v1h-2zM391 854h1v2h-1zM425 854h1v1h-1zM631 854h1v1h-1zM646 854h1v1h-1zM651 854h1v1h-1zM662 854h1v1h-1zM815 854h2v1h-2zM819 854h2v1h-2zM1214 854h2v1h-2zM1329 854h1v1h-1zM1365 854h1v1h-1zM1373 854h1v1h-1zM1385 854h1v1h-1zM1425 854h2v1h-2zM1437 854h1v1h-1zM77 855h1v1h-1zM93 855h1v2h-1zM141 855h1v1h-1zM289 855h3v1h-3zM302 855h2v1h-2zM307 855h2v1h-2zM319 855h2v1h-2zM323 855h3v1h-3zM426 855h2v1h-2zM630 855h1v1h-1zM647 855h2v1h-2zM650 855h1v1h-1zM663 855h1v2h-1zM814 855h1v1h-1zM821 855h2v1h-2zM851 855h1v2h-1zM1216 855h2v1h-2zM1328 855h1v1h-1zM1366 855h1v1h-1zM1372 855h1v1h-1zM1438 855h2v1h-2zM78 856h1v1h-1zM142 856h1v1h-1zM288 856h1v1h-1zM292 856h4v1h-4zM299 856h3v1h-3zM309 856h2v1h-2zM317 856h2v1h-2zM326 856h2v1h-2zM390 856h1v2h-1zM428 856h2v1h-2zM628 856h2v1h-2zM649 856h1v1h-1zM812 856h2v1h-2zM823 856h2v1h-2zM840 856h3v1h-3zM1218 856h2v1h-2zM1327 856h1v1h-1zM1367 856h1v1h-1zM1371 856h1v1h-1zM1440 856h1v1h-1zM79 857h1v1h-1zM92 857h1v2h-1zM143 857h1v1h-1zM286 857h2v1h-2zM296 857h3v1h-3zM311 857h2v1h-2zM315 857h2v1h-2zM328 857h2v1h-2zM430 857h1v1h-1zM449 857h2v1h-2zM627 857h1v1h-1zM664 857h1v1h-1zM810 857h2v1h-2zM825 857h5v1h-5zM836 857h4v1h-4zM843 857h2v1h-2zM850 857h1v2h-1zM1220 857h1v1h-1zM1326 857h1v1h-1zM1368 857h1v1h-1zM1370 857h1v1h-1zM1441 857h2v1h-2zM80 858h1v1h-1zM144 858h1v1h-1zM285 858h1v1h-1zM313 858h2v1h-2zM330 858h1v1h-1zM389 858h1v1h-1zM431 858h2v1h-2zM447 858h2v1h-2zM451 858h3v1h-3zM626 858h1v1h-1zM665 858h1v1h-1zM809 858h1v1h-1zM830 858h6v1h-6zM845 858h2v1h-2zM1221 858h1v1h-1zM1289 858h9v1h-9zM1325 858h1v2h-1zM1369 858h1v1h-1zM1443 858h2v1h-2zM81 859h2v1h-2zM91 859h1v2h-1zM145 859h1v1h-1zM284 859h1v1h-1zM331 859h1v1h-1zM388 859h1v2h-1zM433 859h3v1h-3zM445 859h2v1h-2zM454 859h2v1h-2zM624 859h2v1h-2zM666 859h2v1h-2zM807 859h2v1h-2zM847 859h3v1h-3zM1222 859h2v1h-2zM1289 859h1v1h-1zM1298 859h1v1h-1zM1445 859h2v1h-2zM83 860h2v1h-2zM146 860h1v1h-1zM282 860h2v1h-2zM332 860h1v1h-1zM436 860h4v1h-4zM443 860h2v1h-2zM456 860h6v1h-6zM620 860h4v1h-4zM668 860h1v1h-1zM793 860h2v1h-2zM806 860h1v1h-1zM849 860h1v1h-1zM1224 860h1v1h-1zM1288 860h1v2h-1zM1299 860h1v1h-1zM1324 860h1v1h-1zM1447 860h2v1h-2zM85 861h2v1h-2zM90 861h1v2h-1zM147 861h1v1h-1zM280 861h2v1h-2zM333 861h1v2h-1zM387 861h1v2h-1zM440 861h3v1h-3zM462 861h4v1h-4zM617 861h3v1h-3zM669 861h1v1h-1zM792 861h1v1h-1zM795 861h3v1h-3zM804 861h2v1h-2zM1225 861h2v1h-2zM1300 861h1v1h-1zM1323 861h1v1h-1zM1449 861h1v1h-1zM87 862h2v1h-2zM148 862h2v1h-2zM241 862h5v1h-5zM278 862h2v1h-2zM466 862h1v1h-1zM616 862h1v2h-1zM670 862h2v1h-2zM791 862h1v2h-1zM798 862h2v1h-2zM802 862h2v1h-2zM1227 862h2v1h-2zM1287 862h1v2h-1zM1301 862h1v1h-1zM1322 862h1v1h-1zM89 863h1v1h-1zM150 863h1v1h-1zM160 863h2v1h-2zM240 863h1v1h-1zM246 863h4v1h-4zM275 863h3v1h-3zM334 863h1v1h-1zM377 863h3v1h-3zM386 863h1v2h-1zM467 863h1v1h-1zM672 863h1v1h-1zM713 863h2v1h-2zM800 863h2v1h-2zM1229 863h2v1h-2zM1302 863h1v1h-1zM1321 863h1v1h-1zM151 864h1v1h-1zM158 864h2v1h-2zM162 864h1v1h-1zM217 864h10v1h-10zM238 864h2v1h-2zM250 864h2v1h-2zM273 864h2v1h-2zM335 864h1v1h-1zM376 864h1v1h-1zM380 864h4v1h-4zM468 864h2v1h-2zM615 864h1v2h-1zM673 864h1v1h-1zM712 864h1v2h-1zM715 864h3v1h-3zM790 864h1v1h-1zM1231 864h2v1h-2zM1286 864h1v2h-1zM1303 864h1v1h-1zM1319 864h2v1h-2zM152 865h1v1h-1zM155 865h3v1h-3zM163 865h1v1h-1zM216 865h1v1h-1zM227 865h2v1h-2zM237 865h1v1h-1zM252 865h2v1h-2zM272 865h1v1h-1zM336 865h1v1h-1zM375 865h1v2h-1zM384 865h2v1h-2zM470 865h1v1h-1zM674 865h2v1h-2zM718 865h2v1h-2zM769 865h1v1h-1zM789 865h1v1h-1zM1233 865h1v1h-1zM1304 865h1v1h-1zM1318 865h1v1h-1zM153 866h2v1h-2zM164 866h1v1h-1zM215 866h1v1h-1zM229 866h2v1h-2zM236 866h1v1h-1zM254 866h1v1h-1zM271 866h1v1h-1zM337 866h1v1h-1zM353 866h3v1h-3zM471 866h1v1h-1zM614 866h1v2h-1zM676 866h1v1h-1zM711 866h1v1h-1zM720 866h2v1h-2zM768 866h1v1h-1zM770 866h2v1h-2zM788 866h1v1h-1zM1234 866h1v1h-1zM1285 866h1v3h-1zM1305 866h3v1h-3zM1316 866h2v1h-2zM165 867h1v1h-1zM214 867h1v1h-1zM231 867h2v1h-2zM234 867h2v1h-2zM255 867h2v1h-2zM270 867h1v1h-1zM338 867h2v1h-2zM351 867h2v1h-2zM356 867h4v1h-4zM374 867h1v1h-1zM472 867h1v1h-1zM677 867h1v1h-1zM710 867h1v1h-1zM722 867h1v1h-1zM766 867h2v1h-2zM772 867h1v1h-1zM787 867h1v2h-1zM1235 867h1v1h-1zM1308 867h4v1h-4zM1314 867h2v1h-2zM166 868h1v1h-1zM213 868h1v2h-1zM233 868h1v1h-1zM257 868h2v1h-2zM268 868h2v1h-2zM340 868h2v1h-2zM350 868h1v1h-1zM360 868h2v1h-2zM373 868h1v1h-1zM473 868h1v1h-1zM613 868h1v2h-1zM678 868h2v1h-2zM688 868h4v1h-4zM709 868h1v2h-1zM723 868h1v1h-1zM753 868h2v1h-2zM765 868h1v1h-1zM773 868h1v1h-1zM1236 868h1v1h-1zM1312 868h2v1h-2zM167 869h1v1h-1zM259 869h3v1h-3zM267 869h1v1h-1zM342 869h1v1h-1zM348 869h2v1h-2zM362 869h2v1h-2zM372 869h1v1h-1zM474 869h1v1h-1zM680 869h1v1h-1zM684 869h4v1h-4zM692 869h4v1h-4zM724 869h1v1h-1zM752 869h1v1h-1zM755 869h3v1h-3zM764 869h1v1h-1zM774 869h2v1h-2zM786 869h1v1h-1zM1237 869h1v1h-1zM1284 869h1v2h-1zM168 870h1v1h-1zM212 870h1v1h-1zM262 870h2v1h-2zM266 870h1v1h-1zM343 870h2v1h-2zM346 870h2v1h-2zM364 870h2v1h-2zM371 870h1v2h-1zM475 870h1v2h-1zM612 870h1v2h-1zM681 870h3v1h-3zM696 870h3v1h-3zM708 870h1v1h-1zM725 870h1v2h-1zM751 870h1v1h-1zM758 870h2v1h-2zM762 870h2v1h-2zM776 870h1v1h-1zM782 870h4v1h-4zM1238 870h1v1h-1zM169 871h1v1h-1zM211 871h1v1h-1zM264 871h2v1h-2zM345 871h1v1h-1zM366 871h1v1h-1zM699 871h2v1h-2zM707 871h1v1h-1zM737 871h1v1h-1zM750 871h1v1h-1zM760 871h2v1h-2zM777 871h5v1h-5zM1239 871h1v1h-1zM1283 871h1v2h-1zM170 872h1v1h-1zM210 872h1v1h-1zM367 872h2v1h-2zM370 872h1v1h-1zM476 872h1v1h-1zM611 872h1v2h-1zM701 872h2v1h-2zM706 872h1v2h-1zM726 872h1v1h-1zM735 872h2v1h-2zM738 872h2v1h-2zM749 872h1v1h-1zM1240 872h1v1h-1zM171 873h1v1h-1zM201 873h9v1h-9zM369 873h1v1h-1zM477 873h1v1h-1zM703 873h2v1h-2zM727 873h1v1h-1zM733 873h2v1h-2zM740 873h2v1h-2zM748 873h1v1h-1zM1241 873h1v1h-1zM1264 873h6v1h-6zM1282 873h1v2h-1zM172 874h2v1h-2zM201 874h1v1h-1zM478 874h1v1h-1zM610 874h1v2h-1zM705 874h1v1h-1zM728 874h1v1h-1zM731 874h2v1h-2zM742 874h1v1h-1zM747 874h1v1h-1zM1242 874h2v1h-2zM1260 874h4v1h-4zM1270 874h6v1h-6zM174 875h1v1h-1zM200 875h1v3h-1zM479 875h1v2h-1zM729 875h2v1h-2zM743 875h2v1h-2zM746 875h1v1h-1zM1244 875h2v1h-2zM1256 875h4v1h-4zM1276 875h4v1h-4zM1281 875h1v2h-1zM175 876h1v1h-1zM608 876h2v1h-2zM745 876h1v1h-1zM1246 876h1v1h-1zM1254 876h2v1h-2zM1280 876h1v1h-1zM176 877h1v1h-1zM480 877h1v1h-1zM604 877h4v1h-4zM1247 877h2v1h-2zM1251 877h3v1h-3zM177 878h1v1h-1zM199 878h1v4h-1zM481 878h13v1h-13zM569 878h5v1h-5zM600 878h4v1h-4zM1249 878h2v1h-2zM178 879h1v2h-1zM494 879h14v1h-14zM568 879h1v1h-1zM574 879h8v1h-8zM598 879h2v1h-2zM508 880h4v1h-4zM567 880h1v2h-1zM582 880h8v1h-8zM595 880h3v1h-3zM179 881h1v1h-1zM512 881h3v1h-3zM590 881h5v1h-5zM180 882h1v1h-1zM198 882h1v3h-1zM515 882h3v1h-3zM566 882h1v1h-1zM181 883h1v2h-1zM518 883h2v1h-2zM565 883h1v1h-1zM520 884h3v1h-3zM553 884h2v1h-2zM564 884h1v1h-1zM182 885h1v1h-1zM197 885h1v3h-1zM523 885h2v1h-2zM551 885h2v1h-2zM555 885h2v1h-2zM563 885h1v2h-1zM183 886h1v1h-1zM525 886h2v1h-2zM549 886h2v1h-2zM557 886h2v1h-2zM184 887h1v2h-1zM527 887h2v1h-2zM547 887h2v1h-2zM559 887h2v1h-2zM562 887h1v1h-1zM196 888h1v3h-1zM529 888h2v1h-2zM545 888h2v1h-2zM561 888h1v1h-1zM185 889h1v1h-1zM531 889h2v1h-2zM543 889h2v1h-2zM186 890h1v1h-1zM533 890h2v1h-2zM541 890h2v1h-2zM187 891h1v2h-1zM195 891h1v4h-1zM535 891h2v1h-2zM539 891h2v1h-2zM537 892h2v1h-2zM188 893h1v1h-1zM189 894h1v1h-1zM190 895h1v1h-1zM194 895h1v3h-1zM191 896h1v2h-1zM192 898h2v1h-2zM193 899h1v1h-1z"/>
<g shape-rendering="crispEdges">
<path fill="#000" d="M9 80h1v20h-1zM7 82h5v8h-5zM81 88h1v16h-1zM79 90h5v14h-5zM89 92h1v30h-1zM87 105h5v10h-5zM97 85h1v42h-1zM95 90h5v25h-5zM145 85h1v29h-1zM143 88h5v22h-5zM153 106h1v23h-1zM151 109h5v18h-5zM161 117h1v10h-1zM159 121h5v6h-5zM169 120h1v28h-1zM167 121h5v25h-5zM177 142h1v43h-1zM175 145h5v29h-5zM185 161h1v85h-1zM183 172h5v64h-5zM193 218h1v112h-1zM191 235h5v95h-5zM201 229h1v103h-1zM199 247h5v83h-5zM209 230h1v29h-1zM207 247h5v9h-5zM217 215h1v42h-1zM215 215h5v41h-5zM225 203h1v24h-1zM223 215h5v4h-5zM233 212h1v47h-1zM231 219h5v26h-5zM241 216h1v43h-1zM239 220h5v25h-5zM249 214h1v34h-1zM247 220h5v5h-5zM257 253h1v32h-1zM255 255h5v27h-5zM265 247h1v29h-1zM263 254h5v21h-5zM273 242h1v37h-1zM271 253h5v21h-5zM281 224h1v47h-1zM279 238h5v16h-5zM289 208h1v35h-1zM287 217h5v22h-5zM297 216h1v28h-1zM295 218h5v6h-5zM305 214h1v19h-1zM303 216h5v8h-5zM313 215h1v14h-1zM311 217h5v12h-5zM321 204h1v26h-1zM319 214h5v15h-5zM329 205h1v39h-1zM327 215h5v14h-5zM337 217h1v55h-1zM335 228h5v43h-5zM345 267h1v42h-1zM343 270h5v31h-5zM353 282h1v23h-1zM351 283h5v18h-5zM361 280h1v19h-1zM359 283h5v13h-5zM369 293h1v40h-1zM367 295h5v23h-5zM377 282h1v47h-1zM375 287h5v31h-5zM385 267h1v36h-1zM383 288h5v13h-5zM393 244h1v58h-1zM391 252h5v49h-5zM401 227h1v27h-1zM399 236h5v17h-5zM409 231h1v20h-1zM407 235h5v3h-5zM417 219h1v22h-1zM415 238h5v2h-5zM425 233h1v30h-1zM423 239h5v17h-5zM433 238h1v44h-1zM431 256h5v24h-5zM441 266h1v31h-1zM439 280h5v4h-5zM449 271h1v15h-1zM447 271h5v14h-5zM457 270h1v28h-1zM455 272h5v11h-5zM465 273h1v23h-1zM463 282h5v11h-5zM473 289h1v35h-1zM471 292h5v29h-5zM481 316h1v70h-1zM479 320h5v53h-5zM489 353h1v31h-1zM487 372h5v1h-5zM497 359h1v28h-1zM495 363h5v16h-5zM505 369h1v31h-1zM503 378h5v4h-5zM513 365h1v22h-1zM511 380h5v6h-5zM521 379h1v54h-1zM519 385h5v27h-5zM529 376h1v75h-1zM527 411h5v27h-5zM537 434h1v29h-1zM535 437h5v25h-5zM545 451h1v13h-1zM543 454h5v7h-5zM553 440h1v24h-1zM551 445h5v10h-5zM561 442h1v37h-1zM559 445h5v27h-5zM569 438h1v37h-1zM567 450h5v22h-5zM577 430h1v46h-1zM575 451h5v5h-5zM585 430h1v43h-1zM583 455h5v4h-5zM593 453h1v21h-1zM591 458h5v8h-5zM601 450h1v16h-1zM599 458h5v8h-5zM609 443h1v16h-1zM607 456h5v3h-5zM617 402h1v59h-1zM615 425h5v31h-5zM625 399h1v37h-1zM623 419h5v7h-5zM633 397h1v27h-1zM631 401h5v19h-5zM641 395h1v19h-1zM639 399h5v3h-5zM649 397h1v35h-1zM647 399h5v15h-5zM657 391h1v24h-1zM655 392h5v21h-5zM665 391h1v42h-1zM663 392h5v27h-5zM673 392h1v59h-1zM671 419h5v23h-5zM681 439h1v32h-1zM679 441h5v26h-5zM689 461h1v19h-1zM687 462h5v5h-5zM697 461h1v23h-1zM695 462h5v10h-5zM705 463h1v27h-1zM703 471h5v16h-5zM713 449h1v54h-1zM711 458h5v29h-5zM721 445h1v41h-1zM719 458h5v18h-5zM729 473h1v42h-1zM727 475h5v38h-5zM737 501h1v11h-1zM735 503h5v9h-5zM745 503h1v30h-1zM743 503h5v29h-5zM753 508h1v27h-1zM751 511h5v21h-5zM761 497h1v30h-1zM759 511h5v14h-5zM769 480h1v45h-1zM767 504h5v21h-5zM777 493h1v48h-1zM775 505h5v36h-5zM785 533h1v9h-1zM783 534h5v6h-5zM793 506h1v36h-1zM791 506h5v29h-5zM801 502h1v20h-1zM799 506h5v11h-5zM809 495h1v34h-1zM807 502h5v16h-5zM817 473h1v30h-1zM815 490h5v13h-5zM825 488h1v38h-1zM823 490h5v16h-5zM833 504h1v10h-1zM831 505h5v3h-5zM841 497h1v18h-1zM839 501h5v6h-5zM849 492h1v23h-1zM847 501h5v11h-5zM857 460h1v52h-1zM855 469h5v43h-5zM865 451h1v34h-1zM863 468h5v2h-5zM873 421h1v88h-1zM871 423h5v46h-5zM881 421h1v24h-1zM879 423h5v11h-5zM889 415h1v24h-1zM887 422h5v12h-5zM897 401h1v27h-1zM895 402h5v21h-5zM905 379h1v44h-1zM903 385h5v18h-5zM913 385h1v89h-1zM911 385h5v35h-5zM921 407h1v23h-1zM919 420h5v2h-5zM929 418h1v12h-1zM927 419h5v5h-5zM937 400h1v26h-1zM935 418h5v2h-5zM945 408h1v25h-1zM943 418h5v3h-5zM953 419h1v29h-1zM951 421h5v21h-5zM961 405h1v52h-1zM959 410h5v33h-5zM969 389h1v25h-1zM967 397h5v14h-5zM977 409h1v11h-1zM975 411h5v8h-5zM985 409h1v14h-1zM983 418h5v2h-5zM993 412h1v18h-1zM991 420h5v4h-5zM1001 410h1v34h-1zM999 423h5v9h-5zM1009 379h1v58h-1zM1007 387h5v45h-5zM1017 382h1v40h-1zM1015 387h5v29h-5zM1025 411h1v10h-1zM1023 411h5v5h-5zM1033 411h1v28h-1zM1031 411h5v14h-5zM1041 424h1v26h-1zM1039 424h5v10h-5zM1049 366h1v75h-1zM1047 371h5v63h-5zM1057 330h1v42h-1zM1055 341h5v31h-5zM1065 337h1v15h-1zM1063 341h5v1h-5zM1073 332h1v13h-1zM1071 336h5v7h-5zM1081 310h1v27h-1zM1079 321h5v16h-5zM1089 316h1v28h-1zM1087 321h5v20h-5zM1097 340h1v48h-1zM1095 340h5v42h-5zM1105 376h1v31h-1zM1103 378h5v3h-5zM1113 376h1v14h-1zM1111 378h5v2h-5zM1121 378h1v13h-1zM1119 380h5v4h-5zM1129 377h1v23h-1zM1127 383h5v10h-5zM1137 383h1v19h-1zM1135 392h5v10h-5zM1145 380h1v41h-1zM1143 385h5v16h-5zM1153 376h1v37h-1zM1151 385h5v15h-5zM1161 393h1v20h-1zM1159 394h5v6h-5zM1169 389h1v12h-1zM1167 391h5v3h-5zM1177 376h1v24h-1zM1175 382h5v10h-5zM1185 368h1v30h-1zM1183 382h5v14h-5zM1193 387h1v28h-1zM1191 389h5v7h-5zM1201 369h1v35h-1zM1199 389h5v6h-5zM1209 388h1v15h-1zM1207 393h5v7h-5zM1217 406h1v6h-1zM1215 409h5v1h-5zM1225 405h1v25h-1zM1223 407h5v16h-5zM1233 414h1v27h-1zM1231 422h5v8h-5zM1241 412h1v49h-1zM1239 428h5v25h-5zM1249 451h1v39h-1zM1247 452h5v20h-5zM1257 464h1v15h-1zM1255 467h5v4h-5zM1265 459h1v22h-1zM1263 465h5v5h-5zM1273 459h1v20h-1zM1271 464h5v4h-5zM1281 452h1v23h-1zM1279 467h5v4h-5zM1289 428h1v75h-1zM1287 442h5v30h-5zM1297 418h1v30h-1zM1295 441h5v1h-5zM1305 441h1v55h-1zM1303 441h5v25h-5zM1313 462h1v10h-1zM1311 466h5v4h-5zM1321 455h1v19h-1zM1319 458h5v13h-5zM1329 438h1v28h-1zM1327 443h5v17h-5zM1337 416h1v35h-1zM1335 418h5v26h-5zM1345 400h1v29h-1zM1343 418h5v9h-5zM1353 422h1v22h-1zM1351 426h5v13h-5zM1361 434h1v7h-1zM1359 435h5v4h-5zM1369 430h1v24h-1zM1367 436h5v17h-5zM1377 427h1v30h-1zM1375 437h5v15h-5zM1385 431h1v26h-1zM1383 437h5v7h-5zM1393 406h1v55h-1zM1391 425h5v20h-5zM1401 424h1v18h-1zM1399 426h5v9h-5zM1409 424h1v15h-1zM1407 429h5v7h-5zM1417 428h1v20h-1zM1415 428h5v10h-5zM1425 436h1v19h-1zM1423 437h5v9h-5zM1433 429h1v24h-1zM1431 440h5v7h-5zM1441 437h1v39h-1zM1439 441h5v14h-5zM1449 453h1v18h-1zM1447 454h5v6h-5z"/>
<path fill="#fff" d="M96 91h3v23h-3zM160 122h3v4h-3zM200 248h3v81h-3zM216 216h3v39h-3zM240 221h3v23h-3zM256 256h3v25h-3zM272 254h3v19h-3zM280 239h3v14h-3zM288 218h3v20h-3zM304 217h3v6h-3zM320 215h3v13h-3zM352 284h3v16h-3zM376 288h3v29h-3zM392 253h3v47h-3zM400 237h3v15h-3zM448 272h3v12h-3zM544 455h3v5h-3zM552 446h3v8h-3zM568 451h3v20h-3zM600 459h3v6h-3zM608 457h3v1h-3zM616 426h3v29h-3zM624 420h3v5h-3zM632 402h3v17h-3zM640 400h3v1h-3zM656 393h3v19h-3zM688 463h3v3h-3zM712 459h3v27h-3zM736 504h3v7h-3zM752 512h3v19h-3zM768 505h3v19h-3zM784 535h3v4h-3zM792 507h3v27h-3zM808 503h3v14h-3zM816 491h3v11h-3zM840 502h3v4h-3zM856 470h3v41h-3zM872 424h3v44h-3zM888 423h3v10h-3zM896 403h3v19h-3zM904 386h3v16h-3zM928 420h3v3h-3zM960 411h3v31h-3zM968 398h3v12h-3zM1008 388h3v43h-3zM1024 412h3v3h-3zM1048 372h3v61h-3zM1056 342h3v29h-3zM1072 337h3v5h-3zM1080 322h3v14h-3zM1104 379h3v1h-3zM1144 386h3v14h-3zM1160 395h3v4h-3zM1168 392h3v1h-3zM1176 383h3v8h-3zM1192 390h3v5h-3zM1256 468h3v2h-3zM1264 466h3v3h-3zM1288 443h3v28h-3zM1320 459h3v11h-3zM1328 444h3v15h-3zM1336 419h3v24h-3zM1360 436h3v2h-3zM1376 438h3v13h-3zM1392 426h3v18h-3zM1408 430h3v5h-3zM1432 441h3v5h-3z"/>
</g>
<path d="M1456 20h10l-5 5z" fill="#c0c0c0"/>
<rect x="1010.5" y="301.5" width="61" height="18" fill="#fff" stroke="#ff0000" stroke-width="1" shape-rendering="crispEdges"/><text transform="translate(1012.6,317.0) scale(1,1.040)" font-size="16.1" fill="#ff0000" stroke="#ff0000" stroke-width="0.25">1.32992</text><rect x="1072" y="310" width="9" height="1" fill="#ff0000" shape-rendering="crispEdges"/>
<rect x="1274.5" y="391.5" width="61" height="18" fill="#fff" stroke="#ff0000" stroke-width="1" shape-rendering="crispEdges"/><text transform="translate(1276.6,407.0) scale(1,1.040)" font-size="16.1" fill="#ff0000" stroke="#ff0000" stroke-width="0.25">1.31823</text><rect x="1336" y="400" width="9" height="1" fill="#ff0000" shape-rendering="crispEdges"/>
<rect x="1218.5" y="493.5" width="61" height="18" fill="#fff" stroke="#ff0000" stroke-width="1" shape-rendering="crispEdges"/><text transform="translate(1220.6,509.0) scale(1,1.040)" font-size="16.1" fill="#ff0000" stroke="#ff0000" stroke-width="0.25">1.30503</text><rect x="1280" y="502" width="9" height="1" fill="#ff0000" shape-rendering="crispEdges"/>
<rect x="1132.5" y="440.5" width="73" height="24" fill="#fff" stroke="#ff0000" stroke-width="1" shape-rendering="crispEdges"/><text transform="translate(1133.8,461.0) scale(1,1.070)" font-size="20" fill="#ff0000" stroke="#ff0000" stroke-width="0.25">1.31150</text><rect x="1122" y="452" width="10" height="1" fill="#ff0000" shape-rendering="crispEdges"/>
<g shape-rendering="crispEdges">
<line x1="1092.5" y1="334.5" x2="1273.9" y2="482.9" stroke="#ff0000" stroke-width="3.6"/><path d="M1282.0 489.5L1269.0 485.7L1275.7 477.5z" fill="#ff0000"/>
<line x1="1282.5" y1="489.0" x2="1328.2" y2="411.4" stroke="#ff0000" stroke-width="3.6"/><path d="M1333.5 402.3L1331.7 415.8L1322.6 410.4z" fill="#ff0000"/>
<line x1="1340.5" y1="405.5" x2="1496.9" y2="458.4" stroke="#ff0000" stroke-width="3.0"/><path d="M1506.8 461.8L1493.3 462.8L1496.7 452.8z" fill="#ff0000"/>
<line x1="1365.5" y1="641.5" x2="1443.7" y2="644.2" stroke="#ff0000" stroke-width="3.0"/><path d="M1454.2 644.6L1441.5 649.7L1441.9 638.7z" fill="#ff0000"/>
<line x1="1345.5" y1="843.0" x2="1440.0" y2="858.9" stroke="#ff0000" stroke-width="3.0"/><path d="M1450.4 860.6L1437.2 864.0L1439.0 853.1z" fill="#ff0000"/>
</g>
<g fill="#000" shape-rendering="crispEdges">
<rect x="0" y="19" width="1645" height="1"/>
<rect x="1644" y="19" width="1" height="902"/>
<rect x="0" y="554" width="1645" height="1"/>
<rect x="0" y="556" width="1645" height="1"/>
<rect x="0" y="775" width="1645" height="1"/>
<rect x="0" y="777" width="1645" height="1"/>
<rect x="0" y="920" width="1645" height="1"/>
<rect x="49" y="920" width="1" height="4"/>
<rect x="113" y="920" width="1" height="4"/>
<rect x="177" y="920" width="1" height="4"/>
<rect x="241" y="920" width="1" height="4"/>
<rect x="305" y="920" width="1" height="4"/>
<rect x="369" y="920" width="1" height="4"/>
<rect x="433" y="920" width="1" height="4"/>
<rect x="497" y="920" width="1" height="4"/>
<rect x="561" y="920" width="1" height="4"/>
<rect x="625" y="920" width="1" height="4"/>
<rect x="689" y="920" width="1" height="4"/>
<rect x="753" y="920" width="1" height="4"/>
<rect x="817" y="920" width="1" height="4"/>
<rect x="881" y="920" width="1" height="4"/>
<rect x="945" y="920" width="1" height="4"/>
<rect x="1009" y="920" width="1" height="4"/>
<rect x="1073" y="920" width="1" height="4"/>
<rect x="1137" y="920" width="1" height="4"/>
<rect x="1201" y="920" width="1" height="4"/>
<rect x="1265" y="920" width="1" height="4"/>
<rect x="1329" y="920" width="1" height="4"/>
<rect x="1393" y="920" width="1" height="4"/>
<rect x="1645" y="23" width="2" height="1"/>
<rect x="1645" y="56" width="2" height="1"/>
<rect x="1645" y="89" width="2" height="1"/>
<rect x="1645" y="122" width="2" height="1"/>
<rect x="1645" y="155" width="2" height="1"/>
<rect x="1645" y="188" width="2" height="1"/>
<rect x="1645" y="221" width="2" height="1"/>
<rect x="1645" y="254" width="2" height="1"/>
<rect x="1645" y="287" width="2" height="1"/>
<rect x="1645" y="320" width="2" height="1"/>
<rect x="1645" y="353" width="2" height="1"/>
<rect x="1645" y="386" width="2" height="1"/>
<rect x="1645" y="419" width="2" height="1"/>
<rect x="1645" y="452" width="2" height="1"/>
<rect x="1645" y="485" width="2" height="1"/>
<rect x="1645" y="518" width="2" height="1"/>
<rect x="1645" y="551" width="2" height="1"/>
<rect x="1645" y="634" width="2" height="1"/>
<rect x="1645" y="557" width="1" height="1"/>
<rect x="1645" y="774" width="1" height="1"/>
<rect x="1645" y="778" width="1" height="1"/>
<rect x="1645" y="919" width="1" height="1"/>
</g>
<g font-size="9.5" letter-spacing="-0.2" fill="#000" stroke="#000" stroke-width="0.18">
<text x="1650.3" y="27">1.36710</text>
<text x="1650.3" y="60">1.36280</text>
<text x="1650.3" y="93">1.35850</text>
<text x="1650.3" y="126">1.35420</text>
<text x="1650.3" y="159">1.34990</text>
<text x="1650.3" y="192">1.34570</text>
<text x="1650.3" y="225">1.34140</text>
<text x="1650.3" y="258">1.33710</text>
<text x="1650.3" y="291">1.33280</text>
<text x="1650.3" y="324">1.32860</text>
<text x="1650.3" y="357">1.32430</text>
<text x="1650.3" y="390">1.32000</text>
<text x="1650.3" y="423">1.31570</text>
<text x="1650.3" y="456">1.31150</text>
<text x="1650.3" y="489">1.30720</text>
<text x="1650.3" y="522">1.30290</text>
<text x="1650.3" y="555">1.29860</text>
<text x="1648.3" y="567.9">0.004144</text>
<text x="1648.3" y="637.9">0.00</text>
<text x="1648.3" y="772.4">-0.007664</text>
<text x="1648.3" y="788.4">100</text>
<text x="1648.3" y="810.9">80</text>
<text x="1648.3" y="852.9">50</text>
<text x="1648.3" y="901.9">15</text>
<text x="1648.3" y="916.9">0</text>
<text x="-14.7" y="932.3">18 Feb 2022</text>
<text x="49.3" y="932.3">21 Feb 12:00</text>
<text x="113.3" y="932.3">22 Feb 20:00</text>
<text x="177.3" y="932.3">24 Feb 04:00</text>
<text x="241.3" y="932.3">25 Feb 12:00</text>
<text x="305.3" y="932.3">28 Feb 20:00</text>
<text x="369.3" y="932.3">2 Mar 04:00</text>
<text x="433.3" y="932.3">3 Mar 12:00</text>
<text x="497.3" y="932.3">6 Mar 23:00</text>
<text x="561.3" y="932.3">8 Mar 04:00</text>
<text x="625.3" y="932.3">9 Mar 12:00</text>
<text x="689.3" y="932.3">10 Mar 20:00</text>
<text x="753.3" y="932.3">14 Mar 04:00</text>
<text x="817.3" y="932.3">15 Mar 12:00</text>
<text x="881.3" y="932.3">16 Mar 20:00</text>
<text x="945.3" y="932.3">18 Mar 04:00</text>
<text x="1009.3" y="932.3">21 Mar 12:00</text>
<text x="1073.3" y="932.3">22 Mar 20:00</text>
<text x="1137.3" y="932.3">24 Mar 04:00</text>
<text x="1201.3" y="932.3">25 Mar 12:00</text>
<text x="1265.3" y="932.3">28 Mar 20:00</text>
<text x="1329.3" y="932.3">30 Mar 04:00</text>
<text x="1393.3" y="932.3">31 Mar 12:00</text>
<text x="0.6" y="31" letter-spacing="-0.07" xml:space="preserve" style="white-space:pre">GBPUSD-,H4  1.31121 1.31134 1.30911 1.31053</text>
<text x="-7.7" y="568.7">MACD(12,26,9) -0.000667 -0.000505</text>
<text x="-9.7" y="789.2">RSI(14) 42.3993</text>
</g>
<rect x="1646" y="454" width="41" height="11" fill="#000000" shape-rendering="crispEdges"/><text x="1650.3" y="463" font-size="9.5" letter-spacing="-0.2" fill="#fff">1.31053</text>
<rect x="1646" y="372" width="41" height="10" fill="#ff4500" shape-rendering="crispEdges"/><text x="1650.3" y="381" font-size="9.5" letter-spacing="-0.2" fill="#fff">1.32120</text>
<rect x="1646" y="406" width="41" height="10" fill="#ff0000" shape-rendering="crispEdges"/><text x="1650.3" y="415" font-size="9.5" letter-spacing="-0.2" fill="#fff">1.31680</text>
<rect x="1646" y="447" width="41" height="10" fill="#32cd32" shape-rendering="crispEdges"/><text x="1650.3" y="456" font-size="9.5" letter-spacing="-0.2" fill="#fff">1.31150</text>
<rect x="1646" y="476" width="41" height="10" fill="#0000ff" shape-rendering="crispEdges"/><text x="1650.3" y="485" font-size="9.5" letter-spacing="-0.2" fill="#fff">1.30775</text>
<rect x="1646" y="506" width="41" height="10" fill="#0000ff" shape-rendering="crispEdges"/><text x="1650.3" y="515" font-size="9.5" letter-spacing="-0.2" fill="#fff">1.30386</text>
</svg>
<div id="panel">
<div class="btn" style="left:0;top:2px;width:40px;height:24px;border-top:1px solid #b91515;border-right:1px solid #b91515;"></div>
<div style="left:0;top:25px;width:36px;height:1px;background:#a81212;"></div>
<div style="left:0.5px;top:7.6px;font-size:12px;line-height:12px;letter-spacing:-1px;color:#fff;">SELL</div>
<div style="left:42px;top:2px;width:111px;height:22px;border:1px solid #a3a9b3;background:#fff;"></div>
<div style="left:43px;top:3px;width:21px;height:20px;background:linear-gradient(#f4f4f4,#d9d9d9 55%,#c6c6c6);border-right:1px solid #a3a9b3;"></div>
<div style="left:131px;top:3px;width:21px;height:20px;background:linear-gradient(#f4f4f4,#d9d9d9 55%,#c6c6c6);border-left:1px solid #a3a9b3;"></div>
<div style="left:50.3px;top:11.3px;width:0;height:0;border-left:2.5px solid transparent;border-right:2.5px solid transparent;border-top:3px solid #4c5cba;"></div>
<div style="left:139.3px;top:10.8px;width:0;height:0;border-left:2.5px solid transparent;border-right:2.5px solid transparent;border-bottom:3px solid #4c5cba;"></div>
<div style="right:79px;top:7.4px;font-size:12px;line-height:12px;color:#202020;">1.00</div>
<div class="btn" style="left:155px;top:2px;width:52px;height:24px;border-top:1px solid #b91515;border-left:1px solid #b91515;"></div>
<div style="left:159px;top:25px;width:44px;height:1px;background:#a81212;"></div>
<div style="left:155px;top:7.6px;width:52px;text-align:center;font-size:12px;line-height:12px;letter-spacing:-0.5px;color:#fff;">BUY</div>
<div class="big" style="left:0;top:26px;width:97px;height:33px;"></div>
<div class="big" style="left:99px;top:26px;width:108px;height:33px;"></div>
<div style="left:0;top:26px;width:36px;height:1px;background:#ee6464;"></div>
<div style="left:159px;top:26px;width:44px;height:1px;background:#ee6464;"></div>
<div class="sm" style="left:8px;top:44px;">1.31</div>
<div class="lg" style="left:34.6px;top:25px;">05</div>
<div class="sup" style="left:74.8px;top:28.2px;">3</div>
<div class="sm" style="left:118.3px;top:44px;">1.31</div>
<div class="lg" style="left:145.5px;top:25px;">07</div>
<div class="sup" style="left:186.1px;top:28.2px;">3</div>
</div>

<div id="tb">
<svg width="1692" height="15" viewBox="0 0 1692 15">
<!-- pressed button backgrounds -->
<g fill="#f9f9f9"><rect x="280" y="0" width="24" height="13"/><rect x="431" y="0" width="25" height="13"/><rect x="459" y="0" width="25" height="13"/><rect x="620" y="0" width="24" height="13"/><rect x="1066" y="0" width="24" height="13"/></g>
<!-- separators -->
<g fill="#a0a0a0" shape-rendering="crispEdges">
<rect x="5" y="0" width="1" height="13"/><rect x="241" y="0" width="1" height="14"/><rect x="279" y="0" width="1" height="13"/><rect x="336" y="0" width="1" height="13"/><rect x="426" y="0" width="1" height="13"/><rect x="431" y="0" width="1" height="13"/><rect x="459" y="0" width="1" height="13"/><rect x="488" y="0" width="1" height="13"/><rect x="609" y="0" width="1" height="14"/><rect x="619" y="0" width="1" height="13"/><rect x="676" y="0" width="1" height="13"/><rect x="915" y="0" width="1" height="14"/><rect x="1065" y="0" width="1" height="13"/><rect x="1176" y="0" width="1" height="14"/>
</g>
<g fill="#ffffff" shape-rendering="crispEdges"><rect x="242" y="0" width="1" height="14"/><rect x="610" y="0" width="1" height="14"/><rect x="916" y="0" width="1" height="14"/><rect x="1177" y="0" width="1" height="14"/></g>
<!-- grips -->
<g fill="#b4b4b4" shape-rendering="crispEdges">
<path d="M245 1h3v1h-3zM245 3h3v1h-3zM245 5h3v1h-3zM245 7h3v1h-3zM245 9h3v1h-3zM245 11h3v1h-3z"/>
<path d="M613 1h3v1h-3zM613 3h3v1h-3zM613 5h3v1h-3zM613 7h3v1h-3zM613 9h3v1h-3zM613 11h3v1h-3z"/>
<path d="M919 1h3v1h-3zM919 3h3v1h-3zM919 5h3v1h-3zM919 7h3v1h-3zM919 9h3v1h-3zM919 11h3v1h-3z"/>
</g>
<!-- new order icon -->
<path d="M15.5 -2h8v9.5h-8z" fill="#fff" stroke="#8c8c8c"/>
<path d="M17 1.5h5M17 3.5h3" stroke="#8c8c8c" stroke-width="1"/>
<path d="M23 1h4v4h4v4h-4v4h-4v-4h-4v-4h4z" fill="#0ad00a" stroke="#0a8a0a" stroke-width="0.8"/>
<path d="M22.5 12.7l1.6 1.6l-1.6 1.6l-1.6-1.6z" fill="none" stroke="#000" stroke-width="0.8"/>
<!-- gold book -->
<path d="M82 3.5l9-6l7 5.5l-8.5 6.5z" fill="#e6ad2a" stroke="#a87410" stroke-width="0.8"/>
<path d="M82.3 5.2l7.4 5.6l8.3-6.3" fill="none" stroke="#a87410" stroke-width="1.2"/>
<!-- cloud -->
<rect x="113.5" y="-3" width="9" height="7" fill="#4f8fe0" stroke="#2b62b0"/>
<path d="M112 10.2a3 3 0 0 1 0.8-5.6a4.2 4.2 0 0 1 7.6-0.6a3.4 3.4 0 0 1 4.4 6.2z" fill="#eef3fb" stroke="#7d9fd2" stroke-width="0.9"/>
<!-- signals -->
<g fill="none" stroke-width="1.3"><circle cx="146" cy="2" r="7.3" stroke="#9db5e6"/><circle cx="146" cy="2" r="4.4" stroke="#5e86d8"/><path d="M147 10.5a7.5 7.5 0 0 0 6-9" stroke="#4aa24a" stroke-width="2.4"/></g>
<circle cx="146" cy="2" r="1.8" fill="#2d5fc4"/>
<!-- auto trading icon -->
<path d="M165 1.5h17l-2 5l-5 4h-4l-5-4.5z" fill="#efc93c" stroke="#c69a18" stroke-width="0.8"/>
<path d="M166 -1h14v3.5h-14z" fill="#5b9ad8"/>
<circle cx="178" cy="6.8" r="3.9" fill="#e02424" stroke="#fff" stroke-width="0.5"/>
<rect x="176.4" y="5.2" width="3.2" height="3.2" fill="#fff"/>
<!-- chart type icons -->
<g fill="#3f3f3f" shape-rendering="crispEdges">
<rect x="259" y="0" width="1" height="10"/><rect x="257" y="8" width="13" height="1"/>
<rect x="287" y="0" width="1" height="10"/><rect x="285" y="8" width="13" height="1"/>
<rect x="315" y="0" width="1" height="10"/><rect x="313" y="8" width="13" height="1"/>
<rect x="439" y="0" width="1" height="10"/><rect x="437" y="8" width="13" height="1"/>
<rect x="467" y="0" width="1" height="10"/><rect x="465" y="8" width="13" height="1"/>
</g>
<g fill="#3f3f3f"><path d="M269 6.5l2.5 2l-2.5 2zM297 6.5l2.5 2l-2.5 2zM325 6.5l2.5 2l-2.5 2zM449 6.5l2.5 2l-2.5 2zM477 6.5l2.5 2l-2.5 2z"/></g>
<path d="M265.5 0v5.5h-2.5" fill="none" stroke="#0a9a0a" stroke-width="1.2"/>
<rect x="291.5" y="-1" width="4.5" height="6" fill="#10c010" stroke="#0a8a0a" stroke-width="0.8"/><rect x="293.2" y="5" width="1.2" height="2" fill="#0a8a0a"/>
<path d="M314.3 5.6l6-6l5 4.6" fill="none" stroke="#0a9a0a" stroke-width="1.2"/>
<path d="M444.5 0v5l3.5-2.6z" fill="#2bd02b" stroke="#0a8a0a" stroke-width="0.8"/>
<rect x="473" y="0" width="1" height="7" fill="#1e6fd0"/>
<path d="M474.5 2.5h4.5M474.5 2.5l2.5-2M474.5 2.5l2.5 2" stroke="#e04a10" stroke-width="1.1" fill="none"/>
<!-- zoom in / out -->
<g><path d="M356.5 5.5l5 5" stroke="#d4a21c" stroke-width="2.6" stroke-linecap="round"/><circle cx="352" cy="0.5" r="5.6" fill="#bfe2f5" stroke="#3f86cc" stroke-width="1.4"/><path d="M349 0.5h6" stroke="#2d6cb8" stroke-width="1.5"/>
<path d="M384.5 5.5l5 5" stroke="#d4a21c" stroke-width="2.6" stroke-linecap="round"/><circle cx="380" cy="0.5" r="5.6" fill="#bfe2f5" stroke="#3f86cc" stroke-width="1.4"/><path d="M377 0.5h6" stroke="#2d6cb8" stroke-width="1.5"/></g>
<!-- tile icon -->
<g shape-rendering="crispEdges"><rect x="401" y="-2" width="7" height="4" fill="#3aa83a"/><rect x="409" y="-2" width="8" height="4" fill="#3b72e0"/><rect x="401" y="3" width="7" height="7" fill="#3b72e0"/><rect x="409" y="3" width="8" height="7" fill="#3aa83a"/>
<rect x="402" y="6" width="5" height="3" fill="#e9effc"/><rect x="410" y="6" width="6" height="3" fill="#e6f5e6"/></g>
<!-- new chart + plus -->
<path d="M498.5 -2h8v9.5h-8z" fill="#fff" stroke="#8c8c8c"/>
<path d="M506 0h4v5h4v4h-4v4h-4v-4h-4v-4h4z" fill="#2fd02f" stroke="#0a8a0a" stroke-width="0.8"/>
<g fill="#000"><path d="M519.5 2h6l-3 3.4zM558.5 2h6l-3 3.4zM597.5 2h6l-3 3.4zM903.5 2h6l-3 3.4z"/></g>
<!-- clock -->
<circle cx="544" cy="2" r="7.2" fill="#f4f6fa" stroke="#1f66c8" stroke-width="2.2"/>
<path d="M544 -2v4h2.5" fill="none" stroke="#555" stroke-width="1"/>
<!-- templates -->
<rect x="575.5" y="-3" width="15" height="12" fill="#fff" stroke="#3a70c8" stroke-width="1.2"/>
<path d="M577 1.5l4-1l4 0.5l4-1.5" fill="none" stroke="#d0302a" stroke-width="1"/><path d="M575.5 4h15" stroke="#3a70c8" stroke-width="1"/><path d="M577 7l3-1l3 1l3-1.5l3 1" fill="none" stroke="#2a9a3a" stroke-width="1"/>
<!-- cursor -->
<path d="M627.5 -2v10l2.6-2.3l1.8 4l1.7-0.8l-1.8-3.9h3.4z" fill="#3a3a3a"/>
<!-- crosshair -->
<g fill="#3f3f3f" shape-rendering="crispEdges"><rect x="659" y="0" width="1" height="11"/><rect x="652" y="3" width="15" height="1"/>
<rect x="693" y="0" width="1" height="10"/><rect x="716" y="3" width="12" height="1"/></g>
<path d="M744 10l10.5-10.5" stroke="#3f3f3f" stroke-width="1.1"/>
<!-- channel / fibo -->
<path d="M770 6l12-7M771 9l12-7M774 -1l-2 9M778 -1l-2 9M782 -2l-2 8" stroke="#3f3f3f" stroke-width="0.9" fill="none"/>
<text x="781" y="12" font-size="6.5" font-weight="bold" fill="#222">E</text>
<path d="M799 3.5h12M799 7.5h9" stroke="#3f3f3f" stroke-width="1" stroke-dasharray="1,1"/>
<text x="808.6" y="12" font-size="6.5" font-weight="bold" fill="#222">F</text>
<text x="829.3" y="7.5" font-size="12.4" fill="#4a4a4a" stroke="#4a4a4a" stroke-width="0.3">A</text>
<rect x="856.5" y="-2" width="12" height="11.5" fill="none" stroke="#555" stroke-width="1" stroke-dasharray="1,1"/>
<text x="858" y="7.4" font-size="12.5" font-weight="bold" fill="#4a4a4a">T</text>
<path d="M883 1.5l2.2 2.4l4.4-5" fill="none" stroke="#333" stroke-width="1.5"/><path d="M890 6.2h7l-3.5 3.3z" fill="#333"/><path d="M893.5 2.5l2.5 2.5l-2.5 1z" fill="#333"/>
<!-- timeframes -->
<g font-size="9.6" fill="#3c3c3c" transform="translate(0,6.6) scale(1,1.22)">
<text x="930.3" y="0">M1</text><text x="958.9" y="0">M5</text><text x="984.8" y="0">M15</text><text x="1012.5" y="0">M30</text><text x="1043.6" y="0">H1</text><text x="1070.8" y="0">H4</text><text x="1099.6" y="0">D1</text><text x="1127.2" y="0">W1</text><text x="1153.9" y="0">MN</text>
</g>
<!-- right side icons -->
<path d="M1639.5 7.5l5-5" stroke="#2a5fd0" stroke-width="2.8" stroke-linecap="round"/><circle cx="1647" cy="-1" r="4.2" fill="#f4f7fc" stroke="#3a74dc" stroke-width="1.4"/>
<ellipse cx="1670" cy="3" rx="7" ry="5.6" fill="#dcdde5" stroke="#a9a9b2" stroke-width="0.9"/><path d="M1665.6 7l0.4 4.6l3.8-3.2z" fill="#cfd0d8" stroke="#a9a9b2" stroke-width="0.6"/>
<circle cx="1677.2" cy="0.2" r="8.4" fill="#de2f16"/>
<text x="1674.3" y="4.6" font-size="10" fill="#fff" font-family="Liberation Serif, serif">1</text>
</svg>
<div class="cjk" style="left:34px;top:-5px;">新订单</div>
<div class="cjk" style="left:186.5px;top:-5px;">自动交易</div>
</div>
<div id="tbsh"></div><div id="redge"></div><div id="redge2"></div>

</body></html>
